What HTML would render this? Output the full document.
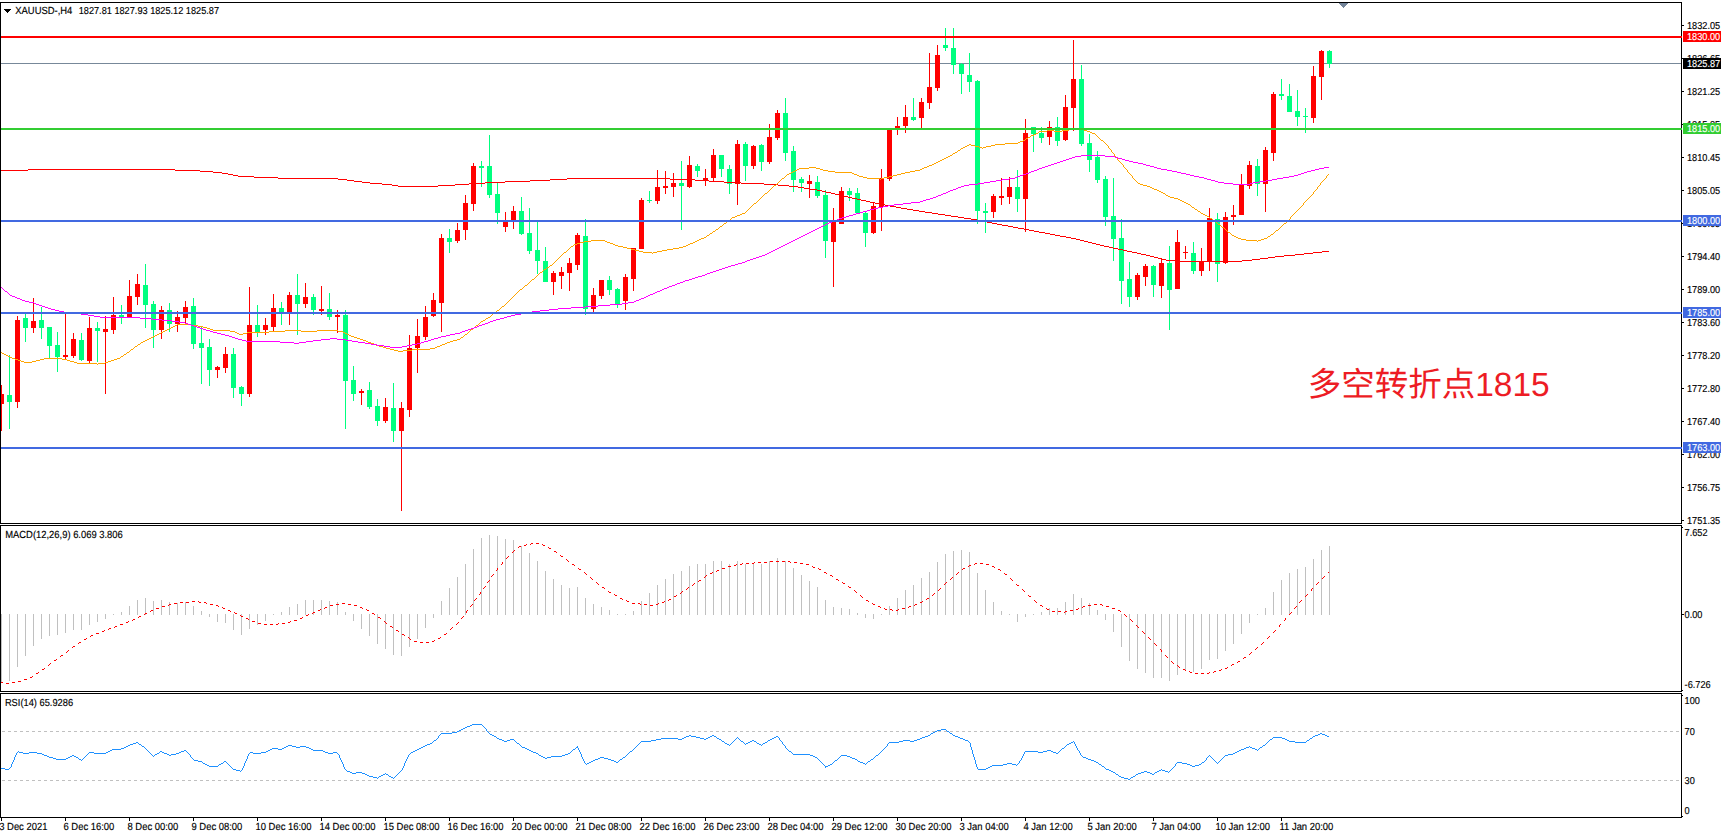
<!DOCTYPE html>
<html lang="zh"><head><meta charset="utf-8"><title>XAUUSD H4</title>
<style>html,body{margin:0;padding:0;background:#fff;}body{width:1721px;height:838px;overflow:hidden;}svg{display:block;}text{font-family:"Liberation Sans", sans-serif;font-size:9.2px;fill:#000;}text{stroke:#000;stroke-width:.15px;text-rendering:geometricPrecision;}.w{fill:#fff;stroke:#fff;}.cj{font-family:"Liberation Sans","Noto Sans CJK SC",sans-serif;font-size:33.5px;fill:#ed1c24;stroke:none;}</style></head><body>
<svg width="1721" height="838" viewBox="0 0 1721 838">
<rect x="0" y="0" width="1721" height="838" fill="#fff"/>
<g shape-rendering="crispEdges">
<line x1="2" y1="731.5" x2="1680" y2="731.5" stroke="#c0c0c0" stroke-width="1" stroke-dasharray="3 3"/>
<line x1="2" y1="780.5" x2="1680" y2="780.5" stroke="#c0c0c0" stroke-width="1" stroke-dasharray="3 3"/>
<rect x="1" y="614" width="1" height="69" fill="#c0c0c0"/>
<rect x="9" y="614" width="1" height="67" fill="#c0c0c0"/>
<rect x="17" y="614" width="1" height="53" fill="#c0c0c0"/>
<rect x="25" y="614" width="1" height="42" fill="#c0c0c0"/>
<rect x="33" y="614" width="1" height="32" fill="#c0c0c0"/>
<rect x="41" y="614" width="1" height="25" fill="#c0c0c0"/>
<rect x="49" y="614" width="1" height="22" fill="#c0c0c0"/>
<rect x="57" y="614" width="1" height="21" fill="#c0c0c0"/>
<rect x="65" y="614" width="1" height="19" fill="#c0c0c0"/>
<rect x="73" y="614" width="1" height="16" fill="#c0c0c0"/>
<rect x="81" y="614" width="1" height="16" fill="#c0c0c0"/>
<rect x="89" y="614" width="1" height="11" fill="#c0c0c0"/>
<rect x="97" y="614" width="1" height="8" fill="#c0c0c0"/>
<rect x="105" y="614" width="1" height="5" fill="#c0c0c0"/>
<rect x="113" y="614" width="1" height="1" fill="#c0c0c0"/>
<rect x="121" y="612" width="1" height="3" fill="#c0c0c0"/>
<rect x="129" y="606" width="1" height="9" fill="#c0c0c0"/>
<rect x="137" y="600" width="1" height="15" fill="#c0c0c0"/>
<rect x="145" y="598" width="1" height="17" fill="#c0c0c0"/>
<rect x="153" y="601" width="1" height="14" fill="#c0c0c0"/>
<rect x="161" y="600" width="1" height="15" fill="#c0c0c0"/>
<rect x="169" y="602" width="1" height="13" fill="#c0c0c0"/>
<rect x="177" y="603" width="1" height="12" fill="#c0c0c0"/>
<rect x="185" y="602" width="1" height="13" fill="#c0c0c0"/>
<rect x="193" y="606" width="1" height="9" fill="#c0c0c0"/>
<rect x="201" y="611" width="1" height="4" fill="#c0c0c0"/>
<rect x="209" y="614" width="1" height="3" fill="#c0c0c0"/>
<rect x="217" y="614" width="1" height="8" fill="#c0c0c0"/>
<rect x="225" y="614" width="1" height="9" fill="#c0c0c0"/>
<rect x="233" y="614" width="1" height="16" fill="#c0c0c0"/>
<rect x="241" y="614" width="1" height="21" fill="#c0c0c0"/>
<rect x="249" y="614" width="1" height="15" fill="#c0c0c0"/>
<rect x="257" y="614" width="1" height="11" fill="#c0c0c0"/>
<rect x="265" y="614" width="1" height="7" fill="#c0c0c0"/>
<rect x="273" y="614" width="1" height="1" fill="#c0c0c0"/>
<rect x="281" y="612" width="1" height="3" fill="#c0c0c0"/>
<rect x="289" y="607" width="1" height="8" fill="#c0c0c0"/>
<rect x="297" y="604" width="1" height="11" fill="#c0c0c0"/>
<rect x="305" y="600" width="1" height="15" fill="#c0c0c0"/>
<rect x="313" y="600" width="1" height="15" fill="#c0c0c0"/>
<rect x="321" y="600" width="1" height="15" fill="#c0c0c0"/>
<rect x="329" y="601" width="1" height="14" fill="#c0c0c0"/>
<rect x="337" y="602" width="1" height="13" fill="#c0c0c0"/>
<rect x="345" y="612" width="1" height="3" fill="#c0c0c0"/>
<rect x="353" y="614" width="1" height="7" fill="#c0c0c0"/>
<rect x="361" y="614" width="1" height="15" fill="#c0c0c0"/>
<rect x="369" y="614" width="1" height="22" fill="#c0c0c0"/>
<rect x="377" y="614" width="1" height="30" fill="#c0c0c0"/>
<rect x="385" y="614" width="1" height="35" fill="#c0c0c0"/>
<rect x="393" y="614" width="1" height="41" fill="#c0c0c0"/>
<rect x="401" y="614" width="1" height="42" fill="#c0c0c0"/>
<rect x="409" y="614" width="1" height="33" fill="#c0c0c0"/>
<rect x="417" y="614" width="1" height="25" fill="#c0c0c0"/>
<rect x="425" y="614" width="1" height="14" fill="#c0c0c0"/>
<rect x="433" y="614" width="1" height="4" fill="#c0c0c0"/>
<rect x="441" y="601" width="1" height="14" fill="#c0c0c0"/>
<rect x="449" y="588" width="1" height="27" fill="#c0c0c0"/>
<rect x="457" y="577" width="1" height="38" fill="#c0c0c0"/>
<rect x="465" y="564" width="1" height="51" fill="#c0c0c0"/>
<rect x="473" y="549" width="1" height="66" fill="#c0c0c0"/>
<rect x="481" y="538" width="1" height="77" fill="#c0c0c0"/>
<rect x="489" y="535" width="1" height="80" fill="#c0c0c0"/>
<rect x="497" y="536" width="1" height="79" fill="#c0c0c0"/>
<rect x="505" y="539" width="1" height="76" fill="#c0c0c0"/>
<rect x="513" y="540" width="1" height="75" fill="#c0c0c0"/>
<rect x="521" y="546" width="1" height="69" fill="#c0c0c0"/>
<rect x="529" y="553" width="1" height="62" fill="#c0c0c0"/>
<rect x="537" y="561" width="1" height="54" fill="#c0c0c0"/>
<rect x="545" y="571" width="1" height="44" fill="#c0c0c0"/>
<rect x="553" y="579" width="1" height="36" fill="#c0c0c0"/>
<rect x="561" y="585" width="1" height="30" fill="#c0c0c0"/>
<rect x="569" y="588" width="1" height="27" fill="#c0c0c0"/>
<rect x="577" y="587" width="1" height="28" fill="#c0c0c0"/>
<rect x="585" y="598" width="1" height="17" fill="#c0c0c0"/>
<rect x="593" y="604" width="1" height="11" fill="#c0c0c0"/>
<rect x="601" y="607" width="1" height="8" fill="#c0c0c0"/>
<rect x="609" y="610" width="1" height="5" fill="#c0c0c0"/>
<rect x="617" y="614" width="1" height="1" fill="#c0c0c0"/>
<rect x="625" y="614" width="1" height="1" fill="#c0c0c0"/>
<rect x="633" y="611" width="1" height="4" fill="#c0c0c0"/>
<rect x="641" y="601" width="1" height="14" fill="#c0c0c0"/>
<rect x="649" y="593" width="1" height="22" fill="#c0c0c0"/>
<rect x="657" y="585" width="1" height="30" fill="#c0c0c0"/>
<rect x="665" y="579" width="1" height="36" fill="#c0c0c0"/>
<rect x="673" y="574" width="1" height="41" fill="#c0c0c0"/>
<rect x="681" y="571" width="1" height="44" fill="#c0c0c0"/>
<rect x="689" y="566" width="1" height="49" fill="#c0c0c0"/>
<rect x="697" y="564" width="1" height="51" fill="#c0c0c0"/>
<rect x="705" y="564" width="1" height="51" fill="#c0c0c0"/>
<rect x="713" y="561" width="1" height="54" fill="#c0c0c0"/>
<rect x="721" y="561" width="1" height="54" fill="#c0c0c0"/>
<rect x="729" y="564" width="1" height="51" fill="#c0c0c0"/>
<rect x="737" y="561" width="1" height="54" fill="#c0c0c0"/>
<rect x="745" y="564" width="1" height="51" fill="#c0c0c0"/>
<rect x="753" y="564" width="1" height="51" fill="#c0c0c0"/>
<rect x="761" y="564" width="1" height="51" fill="#c0c0c0"/>
<rect x="769" y="561" width="1" height="54" fill="#c0c0c0"/>
<rect x="777" y="558" width="1" height="57" fill="#c0c0c0"/>
<rect x="785" y="561" width="1" height="54" fill="#c0c0c0"/>
<rect x="793" y="568" width="1" height="47" fill="#c0c0c0"/>
<rect x="801" y="575" width="1" height="40" fill="#c0c0c0"/>
<rect x="809" y="581" width="1" height="34" fill="#c0c0c0"/>
<rect x="817" y="587" width="1" height="28" fill="#c0c0c0"/>
<rect x="825" y="600" width="1" height="15" fill="#c0c0c0"/>
<rect x="833" y="607" width="1" height="8" fill="#c0c0c0"/>
<rect x="841" y="608" width="1" height="7" fill="#c0c0c0"/>
<rect x="849" y="609" width="1" height="6" fill="#c0c0c0"/>
<rect x="857" y="613" width="1" height="2" fill="#c0c0c0"/>
<rect x="865" y="614" width="1" height="4" fill="#c0c0c0"/>
<rect x="873" y="614" width="1" height="5" fill="#c0c0c0"/>
<rect x="881" y="614" width="1" height="1" fill="#c0c0c0"/>
<rect x="889" y="606" width="1" height="9" fill="#c0c0c0"/>
<rect x="897" y="598" width="1" height="17" fill="#c0c0c0"/>
<rect x="905" y="590" width="1" height="25" fill="#c0c0c0"/>
<rect x="913" y="585" width="1" height="30" fill="#c0c0c0"/>
<rect x="921" y="578" width="1" height="37" fill="#c0c0c0"/>
<rect x="929" y="572" width="1" height="43" fill="#c0c0c0"/>
<rect x="937" y="562" width="1" height="53" fill="#c0c0c0"/>
<rect x="945" y="554" width="1" height="61" fill="#c0c0c0"/>
<rect x="953" y="551" width="1" height="64" fill="#c0c0c0"/>
<rect x="961" y="550" width="1" height="65" fill="#c0c0c0"/>
<rect x="969" y="552" width="1" height="63" fill="#c0c0c0"/>
<rect x="977" y="573" width="1" height="42" fill="#c0c0c0"/>
<rect x="985" y="590" width="1" height="25" fill="#c0c0c0"/>
<rect x="993" y="602" width="1" height="13" fill="#c0c0c0"/>
<rect x="1001" y="611" width="1" height="4" fill="#c0c0c0"/>
<rect x="1009" y="614" width="1" height="1" fill="#c0c0c0"/>
<rect x="1017" y="614" width="1" height="8" fill="#c0c0c0"/>
<rect x="1025" y="614" width="1" height="3" fill="#c0c0c0"/>
<rect x="1033" y="614" width="1" height="1" fill="#c0c0c0"/>
<rect x="1041" y="612" width="1" height="3" fill="#c0c0c0"/>
<rect x="1049" y="608" width="1" height="7" fill="#c0c0c0"/>
<rect x="1057" y="608" width="1" height="7" fill="#c0c0c0"/>
<rect x="1065" y="602" width="1" height="13" fill="#c0c0c0"/>
<rect x="1073" y="594" width="1" height="21" fill="#c0c0c0"/>
<rect x="1081" y="598" width="1" height="17" fill="#c0c0c0"/>
<rect x="1089" y="603" width="1" height="12" fill="#c0c0c0"/>
<rect x="1097" y="610" width="1" height="5" fill="#c0c0c0"/>
<rect x="1105" y="614" width="1" height="6" fill="#c0c0c0"/>
<rect x="1113" y="614" width="1" height="18" fill="#c0c0c0"/>
<rect x="1121" y="614" width="1" height="33" fill="#c0c0c0"/>
<rect x="1129" y="614" width="1" height="47" fill="#c0c0c0"/>
<rect x="1137" y="614" width="1" height="55" fill="#c0c0c0"/>
<rect x="1145" y="614" width="1" height="59" fill="#c0c0c0"/>
<rect x="1153" y="614" width="1" height="64" fill="#c0c0c0"/>
<rect x="1161" y="614" width="1" height="64" fill="#c0c0c0"/>
<rect x="1169" y="614" width="1" height="67" fill="#c0c0c0"/>
<rect x="1177" y="614" width="1" height="61" fill="#c0c0c0"/>
<rect x="1185" y="614" width="1" height="57" fill="#c0c0c0"/>
<rect x="1193" y="614" width="1" height="58" fill="#c0c0c0"/>
<rect x="1201" y="614" width="1" height="55" fill="#c0c0c0"/>
<rect x="1209" y="614" width="1" height="46" fill="#c0c0c0"/>
<rect x="1217" y="614" width="1" height="45" fill="#c0c0c0"/>
<rect x="1225" y="614" width="1" height="37" fill="#c0c0c0"/>
<rect x="1233" y="614" width="1" height="30" fill="#c0c0c0"/>
<rect x="1241" y="614" width="1" height="20" fill="#c0c0c0"/>
<rect x="1249" y="614" width="1" height="9" fill="#c0c0c0"/>
<rect x="1257" y="614" width="1" height="1" fill="#c0c0c0"/>
<rect x="1265" y="608" width="1" height="7" fill="#c0c0c0"/>
<rect x="1273" y="592" width="1" height="23" fill="#c0c0c0"/>
<rect x="1281" y="580" width="1" height="35" fill="#c0c0c0"/>
<rect x="1289" y="573" width="1" height="42" fill="#c0c0c0"/>
<rect x="1297" y="569" width="1" height="46" fill="#c0c0c0"/>
<rect x="1305" y="567" width="1" height="48" fill="#c0c0c0"/>
<rect x="1313" y="559" width="1" height="56" fill="#c0c0c0"/>
<rect x="1321" y="550" width="1" height="65" fill="#c0c0c0"/>
<rect x="1329" y="546" width="1" height="69" fill="#c0c0c0"/>
<rect x="1" y="63" width="1681" height="1" fill="#778899"/>
<rect x="1" y="385" width="1" height="46" fill="#ff0000"/>
<rect x="1" y="394" width="3" height="10" fill="#ff0000"/>
<rect x="9" y="355" width="1" height="74" fill="#00ff7f"/>
<rect x="7" y="395" width="5" height="7" fill="#00ff7f"/>
<rect x="17" y="316" width="1" height="92" fill="#ff0000"/>
<rect x="15" y="320" width="5" height="82" fill="#ff0000"/>
<rect x="25" y="314" width="1" height="28" fill="#00ff7f"/>
<rect x="23" y="318" width="5" height="10" fill="#00ff7f"/>
<rect x="33" y="298" width="1" height="35" fill="#ff0000"/>
<rect x="31" y="321" width="5" height="7" fill="#ff0000"/>
<rect x="41" y="307" width="1" height="32" fill="#00ff7f"/>
<rect x="39" y="320" width="5" height="8" fill="#00ff7f"/>
<rect x="49" y="327" width="1" height="31" fill="#00ff7f"/>
<rect x="47" y="327" width="5" height="19" fill="#00ff7f"/>
<rect x="57" y="332" width="1" height="40" fill="#00ff7f"/>
<rect x="55" y="345" width="5" height="12" fill="#00ff7f"/>
<rect x="65" y="313" width="1" height="47" fill="#ff0000"/>
<rect x="63" y="355" width="5" height="2" fill="#ff0000"/>
<rect x="73" y="333" width="1" height="25" fill="#ff0000"/>
<rect x="71" y="339" width="5" height="17" fill="#ff0000"/>
<rect x="81" y="333" width="1" height="28" fill="#00ff7f"/>
<rect x="79" y="340" width="5" height="20" fill="#00ff7f"/>
<rect x="89" y="317" width="1" height="47" fill="#ff0000"/>
<rect x="87" y="328" width="5" height="33" fill="#ff0000"/>
<rect x="97" y="322" width="1" height="40" fill="#00ff7f"/>
<rect x="95" y="328" width="5" height="3" fill="#00ff7f"/>
<rect x="105" y="316" width="1" height="78" fill="#ff0000"/>
<rect x="103" y="329" width="5" height="3" fill="#ff0000"/>
<rect x="113" y="297" width="1" height="37" fill="#ff0000"/>
<rect x="111" y="315" width="5" height="15" fill="#ff0000"/>
<rect x="121" y="305" width="1" height="19" fill="#00ff7f"/>
<rect x="119" y="315" width="5" height="2" fill="#00ff7f"/>
<rect x="129" y="280" width="1" height="37" fill="#ff0000"/>
<rect x="127" y="296" width="5" height="21" fill="#ff0000"/>
<rect x="137" y="274" width="1" height="31" fill="#ff0000"/>
<rect x="135" y="284" width="5" height="13" fill="#ff0000"/>
<rect x="145" y="264" width="1" height="64" fill="#00ff7f"/>
<rect x="143" y="285" width="5" height="20" fill="#00ff7f"/>
<rect x="153" y="301" width="1" height="47" fill="#00ff7f"/>
<rect x="151" y="304" width="5" height="26" fill="#00ff7f"/>
<rect x="161" y="306" width="1" height="33" fill="#ff0000"/>
<rect x="159" y="310" width="5" height="20" fill="#ff0000"/>
<rect x="169" y="303" width="1" height="29" fill="#00ff7f"/>
<rect x="167" y="310" width="5" height="14" fill="#00ff7f"/>
<rect x="177" y="311" width="1" height="21" fill="#ff0000"/>
<rect x="175" y="317" width="5" height="7" fill="#ff0000"/>
<rect x="185" y="301" width="1" height="24" fill="#ff0000"/>
<rect x="183" y="307" width="5" height="11" fill="#ff0000"/>
<rect x="193" y="298" width="1" height="51" fill="#00ff7f"/>
<rect x="191" y="306" width="5" height="38" fill="#00ff7f"/>
<rect x="201" y="326" width="1" height="58" fill="#00ff7f"/>
<rect x="199" y="343" width="5" height="5" fill="#00ff7f"/>
<rect x="209" y="339" width="1" height="47" fill="#00ff7f"/>
<rect x="207" y="347" width="5" height="23" fill="#00ff7f"/>
<rect x="217" y="366" width="1" height="12" fill="#ff0000"/>
<rect x="215" y="367" width="5" height="3" fill="#ff0000"/>
<rect x="225" y="347" width="1" height="26" fill="#ff0000"/>
<rect x="223" y="354" width="5" height="14" fill="#ff0000"/>
<rect x="233" y="348" width="1" height="50" fill="#00ff7f"/>
<rect x="231" y="354" width="5" height="34" fill="#00ff7f"/>
<rect x="241" y="386" width="1" height="20" fill="#00ff7f"/>
<rect x="239" y="387" width="5" height="7" fill="#00ff7f"/>
<rect x="249" y="287" width="1" height="110" fill="#ff0000"/>
<rect x="247" y="325" width="5" height="69" fill="#ff0000"/>
<rect x="257" y="305" width="1" height="32" fill="#00ff7f"/>
<rect x="255" y="325" width="5" height="7" fill="#00ff7f"/>
<rect x="265" y="318" width="1" height="17" fill="#ff0000"/>
<rect x="263" y="325" width="5" height="5" fill="#ff0000"/>
<rect x="273" y="294" width="1" height="37" fill="#ff0000"/>
<rect x="271" y="308" width="5" height="19" fill="#ff0000"/>
<rect x="281" y="302" width="1" height="23" fill="#00ff7f"/>
<rect x="279" y="308" width="5" height="4" fill="#00ff7f"/>
<rect x="289" y="292" width="1" height="33" fill="#ff0000"/>
<rect x="287" y="295" width="5" height="17" fill="#ff0000"/>
<rect x="297" y="274" width="1" height="61" fill="#00ff7f"/>
<rect x="295" y="295" width="5" height="9" fill="#00ff7f"/>
<rect x="305" y="283" width="1" height="25" fill="#ff0000"/>
<rect x="303" y="297" width="5" height="7" fill="#ff0000"/>
<rect x="313" y="294" width="1" height="21" fill="#00ff7f"/>
<rect x="311" y="297" width="5" height="13" fill="#00ff7f"/>
<rect x="321" y="286" width="1" height="29" fill="#ff0000"/>
<rect x="319" y="309" width="5" height="2" fill="#ff0000"/>
<rect x="329" y="293" width="1" height="27" fill="#00ff7f"/>
<rect x="327" y="309" width="5" height="8" fill="#00ff7f"/>
<rect x="337" y="310" width="1" height="23" fill="#ff0000"/>
<rect x="335" y="315" width="5" height="2" fill="#ff0000"/>
<rect x="345" y="310" width="1" height="119" fill="#00ff7f"/>
<rect x="343" y="315" width="5" height="66" fill="#00ff7f"/>
<rect x="353" y="366" width="1" height="35" fill="#00ff7f"/>
<rect x="351" y="380" width="5" height="14" fill="#00ff7f"/>
<rect x="361" y="389" width="1" height="16" fill="#ff0000"/>
<rect x="359" y="391" width="5" height="2" fill="#ff0000"/>
<rect x="369" y="382" width="1" height="27" fill="#00ff7f"/>
<rect x="367" y="390" width="5" height="17" fill="#00ff7f"/>
<rect x="377" y="399" width="1" height="27" fill="#00ff7f"/>
<rect x="375" y="406" width="5" height="15" fill="#00ff7f"/>
<rect x="385" y="398" width="1" height="25" fill="#ff0000"/>
<rect x="383" y="407" width="5" height="14" fill="#ff0000"/>
<rect x="393" y="383" width="1" height="59" fill="#00ff7f"/>
<rect x="391" y="408" width="5" height="23" fill="#00ff7f"/>
<rect x="401" y="402" width="1" height="109" fill="#ff0000"/>
<rect x="399" y="408" width="5" height="23" fill="#ff0000"/>
<rect x="409" y="335" width="1" height="82" fill="#ff0000"/>
<rect x="407" y="348" width="5" height="62" fill="#ff0000"/>
<rect x="417" y="319" width="1" height="54" fill="#ff0000"/>
<rect x="415" y="336" width="5" height="12" fill="#ff0000"/>
<rect x="425" y="306" width="1" height="34" fill="#ff0000"/>
<rect x="423" y="317" width="5" height="20" fill="#ff0000"/>
<rect x="433" y="293" width="1" height="24" fill="#ff0000"/>
<rect x="431" y="300" width="5" height="16" fill="#ff0000"/>
<rect x="441" y="234" width="1" height="98" fill="#ff0000"/>
<rect x="439" y="238" width="5" height="65" fill="#ff0000"/>
<rect x="449" y="229" width="1" height="24" fill="#00ff7f"/>
<rect x="447" y="238" width="5" height="4" fill="#00ff7f"/>
<rect x="457" y="223" width="1" height="20" fill="#ff0000"/>
<rect x="455" y="230" width="5" height="11" fill="#ff0000"/>
<rect x="465" y="195" width="1" height="45" fill="#ff0000"/>
<rect x="463" y="203" width="5" height="27" fill="#ff0000"/>
<rect x="473" y="163" width="1" height="48" fill="#ff0000"/>
<rect x="471" y="166" width="5" height="38" fill="#ff0000"/>
<rect x="481" y="161" width="1" height="26" fill="#00ff7f"/>
<rect x="479" y="166" width="5" height="2" fill="#00ff7f"/>
<rect x="489" y="135" width="1" height="63" fill="#00ff7f"/>
<rect x="487" y="166" width="5" height="29" fill="#00ff7f"/>
<rect x="497" y="183" width="1" height="41" fill="#00ff7f"/>
<rect x="495" y="194" width="5" height="19" fill="#00ff7f"/>
<rect x="505" y="212" width="1" height="20" fill="#ff0000"/>
<rect x="503" y="221" width="5" height="6" fill="#ff0000"/>
<rect x="513" y="206" width="1" height="23" fill="#ff0000"/>
<rect x="511" y="211" width="5" height="10" fill="#ff0000"/>
<rect x="521" y="197" width="1" height="38" fill="#00ff7f"/>
<rect x="519" y="211" width="5" height="23" fill="#00ff7f"/>
<rect x="529" y="208" width="1" height="46" fill="#00ff7f"/>
<rect x="527" y="233" width="5" height="18" fill="#00ff7f"/>
<rect x="537" y="221" width="1" height="53" fill="#00ff7f"/>
<rect x="535" y="250" width="5" height="11" fill="#00ff7f"/>
<rect x="545" y="247" width="1" height="35" fill="#00ff7f"/>
<rect x="543" y="261" width="5" height="21" fill="#00ff7f"/>
<rect x="553" y="271" width="1" height="24" fill="#ff0000"/>
<rect x="551" y="273" width="5" height="9" fill="#ff0000"/>
<rect x="561" y="267" width="1" height="22" fill="#ff0000"/>
<rect x="559" y="272" width="5" height="4" fill="#ff0000"/>
<rect x="569" y="258" width="1" height="33" fill="#ff0000"/>
<rect x="567" y="263" width="5" height="10" fill="#ff0000"/>
<rect x="577" y="233" width="1" height="37" fill="#ff0000"/>
<rect x="575" y="235" width="5" height="30" fill="#ff0000"/>
<rect x="585" y="219" width="1" height="96" fill="#00ff7f"/>
<rect x="583" y="236" width="5" height="73" fill="#00ff7f"/>
<rect x="593" y="288" width="1" height="24" fill="#ff0000"/>
<rect x="591" y="295" width="5" height="14" fill="#ff0000"/>
<rect x="601" y="280" width="1" height="19" fill="#ff0000"/>
<rect x="599" y="280" width="5" height="16" fill="#ff0000"/>
<rect x="609" y="276" width="1" height="19" fill="#00ff7f"/>
<rect x="607" y="280" width="5" height="10" fill="#00ff7f"/>
<rect x="617" y="288" width="1" height="20" fill="#00ff7f"/>
<rect x="615" y="289" width="5" height="15" fill="#00ff7f"/>
<rect x="625" y="274" width="1" height="36" fill="#ff0000"/>
<rect x="623" y="277" width="5" height="24" fill="#ff0000"/>
<rect x="633" y="248" width="1" height="43" fill="#ff0000"/>
<rect x="631" y="248" width="5" height="31" fill="#ff0000"/>
<rect x="641" y="198" width="1" height="51" fill="#ff0000"/>
<rect x="639" y="200" width="5" height="49" fill="#ff0000"/>
<rect x="649" y="191" width="1" height="12" fill="#00ff7f"/>
<rect x="647" y="200" width="5" height="1" fill="#00ff7f"/>
<rect x="657" y="170" width="1" height="34" fill="#ff0000"/>
<rect x="655" y="187" width="5" height="14" fill="#ff0000"/>
<rect x="665" y="171" width="1" height="23" fill="#ff0000"/>
<rect x="663" y="186" width="5" height="2" fill="#ff0000"/>
<rect x="673" y="173" width="1" height="24" fill="#ff0000"/>
<rect x="671" y="183" width="5" height="4" fill="#ff0000"/>
<rect x="681" y="161" width="1" height="69" fill="#00ff7f"/>
<rect x="679" y="183" width="5" height="3" fill="#00ff7f"/>
<rect x="689" y="156" width="1" height="32" fill="#ff0000"/>
<rect x="687" y="165" width="5" height="22" fill="#ff0000"/>
<rect x="697" y="164" width="1" height="13" fill="#00ff7f"/>
<rect x="695" y="166" width="5" height="5" fill="#00ff7f"/>
<rect x="705" y="169" width="1" height="17" fill="#ff0000"/>
<rect x="703" y="178" width="5" height="3" fill="#ff0000"/>
<rect x="713" y="149" width="1" height="32" fill="#ff0000"/>
<rect x="711" y="155" width="5" height="23" fill="#ff0000"/>
<rect x="721" y="155" width="1" height="22" fill="#00ff7f"/>
<rect x="719" y="155" width="5" height="14" fill="#00ff7f"/>
<rect x="729" y="165" width="1" height="29" fill="#00ff7f"/>
<rect x="727" y="169" width="5" height="15" fill="#00ff7f"/>
<rect x="737" y="140" width="1" height="65" fill="#ff0000"/>
<rect x="735" y="144" width="5" height="40" fill="#ff0000"/>
<rect x="745" y="142" width="1" height="39" fill="#00ff7f"/>
<rect x="743" y="144" width="5" height="22" fill="#00ff7f"/>
<rect x="753" y="145" width="1" height="24" fill="#ff0000"/>
<rect x="751" y="146" width="5" height="20" fill="#ff0000"/>
<rect x="761" y="144" width="1" height="27" fill="#00ff7f"/>
<rect x="759" y="145" width="5" height="17" fill="#00ff7f"/>
<rect x="769" y="124" width="1" height="40" fill="#ff0000"/>
<rect x="767" y="137" width="5" height="25" fill="#ff0000"/>
<rect x="777" y="110" width="1" height="30" fill="#ff0000"/>
<rect x="775" y="113" width="5" height="25" fill="#ff0000"/>
<rect x="785" y="98" width="1" height="63" fill="#00ff7f"/>
<rect x="783" y="113" width="5" height="40" fill="#00ff7f"/>
<rect x="793" y="146" width="1" height="46" fill="#00ff7f"/>
<rect x="791" y="151" width="5" height="29" fill="#00ff7f"/>
<rect x="801" y="177" width="1" height="15" fill="#00ff7f"/>
<rect x="799" y="179" width="5" height="4" fill="#00ff7f"/>
<rect x="809" y="175" width="1" height="23" fill="#ff0000"/>
<rect x="807" y="181" width="5" height="3" fill="#ff0000"/>
<rect x="817" y="176" width="1" height="22" fill="#00ff7f"/>
<rect x="815" y="182" width="5" height="14" fill="#00ff7f"/>
<rect x="825" y="190" width="1" height="68" fill="#00ff7f"/>
<rect x="823" y="195" width="5" height="46" fill="#00ff7f"/>
<rect x="833" y="208" width="1" height="79" fill="#ff0000"/>
<rect x="831" y="221" width="5" height="21" fill="#ff0000"/>
<rect x="841" y="187" width="1" height="37" fill="#ff0000"/>
<rect x="839" y="191" width="5" height="33" fill="#ff0000"/>
<rect x="849" y="188" width="1" height="13" fill="#00ff7f"/>
<rect x="847" y="191" width="5" height="4" fill="#00ff7f"/>
<rect x="857" y="188" width="1" height="26" fill="#00ff7f"/>
<rect x="855" y="193" width="5" height="20" fill="#00ff7f"/>
<rect x="865" y="211" width="1" height="36" fill="#00ff7f"/>
<rect x="863" y="213" width="5" height="20" fill="#00ff7f"/>
<rect x="873" y="203" width="1" height="31" fill="#ff0000"/>
<rect x="871" y="206" width="5" height="27" fill="#ff0000"/>
<rect x="881" y="169" width="1" height="62" fill="#ff0000"/>
<rect x="879" y="178" width="5" height="29" fill="#ff0000"/>
<rect x="889" y="129" width="1" height="52" fill="#ff0000"/>
<rect x="887" y="129" width="5" height="50" fill="#ff0000"/>
<rect x="897" y="117" width="1" height="18" fill="#ff0000"/>
<rect x="895" y="126" width="5" height="2" fill="#ff0000"/>
<rect x="905" y="105" width="1" height="28" fill="#ff0000"/>
<rect x="903" y="117" width="5" height="9" fill="#ff0000"/>
<rect x="913" y="98" width="1" height="23" fill="#00ff7f"/>
<rect x="911" y="117" width="5" height="3" fill="#00ff7f"/>
<rect x="921" y="98" width="1" height="30" fill="#ff0000"/>
<rect x="919" y="102" width="5" height="16" fill="#ff0000"/>
<rect x="929" y="53" width="1" height="56" fill="#ff0000"/>
<rect x="927" y="87" width="5" height="16" fill="#ff0000"/>
<rect x="937" y="45" width="1" height="46" fill="#ff0000"/>
<rect x="935" y="55" width="5" height="33" fill="#ff0000"/>
<rect x="945" y="28" width="1" height="23" fill="#00ff7f"/>
<rect x="943" y="45" width="5" height="3" fill="#00ff7f"/>
<rect x="953" y="28" width="1" height="46" fill="#00ff7f"/>
<rect x="951" y="48" width="5" height="17" fill="#00ff7f"/>
<rect x="961" y="63" width="1" height="31" fill="#00ff7f"/>
<rect x="959" y="64" width="5" height="10" fill="#00ff7f"/>
<rect x="969" y="53" width="1" height="39" fill="#00ff7f"/>
<rect x="967" y="75" width="5" height="7" fill="#00ff7f"/>
<rect x="977" y="80" width="1" height="144" fill="#00ff7f"/>
<rect x="975" y="81" width="5" height="130" fill="#00ff7f"/>
<rect x="985" y="203" width="1" height="30" fill="#00ff7f"/>
<rect x="983" y="211" width="5" height="2" fill="#00ff7f"/>
<rect x="993" y="194" width="1" height="24" fill="#ff0000"/>
<rect x="991" y="196" width="5" height="16" fill="#ff0000"/>
<rect x="1001" y="178" width="1" height="27" fill="#ff0000"/>
<rect x="999" y="196" width="5" height="2" fill="#ff0000"/>
<rect x="1009" y="177" width="1" height="27" fill="#ff0000"/>
<rect x="1007" y="187" width="5" height="10" fill="#ff0000"/>
<rect x="1017" y="170" width="1" height="42" fill="#00ff7f"/>
<rect x="1015" y="187" width="5" height="12" fill="#00ff7f"/>
<rect x="1025" y="119" width="1" height="113" fill="#ff0000"/>
<rect x="1023" y="133" width="5" height="66" fill="#ff0000"/>
<rect x="1033" y="127" width="1" height="25" fill="#00ff7f"/>
<rect x="1031" y="127" width="5" height="7" fill="#00ff7f"/>
<rect x="1041" y="127" width="1" height="16" fill="#00ff7f"/>
<rect x="1039" y="133" width="5" height="5" fill="#00ff7f"/>
<rect x="1049" y="121" width="1" height="24" fill="#ff0000"/>
<rect x="1047" y="127" width="5" height="10" fill="#ff0000"/>
<rect x="1057" y="117" width="1" height="29" fill="#00ff7f"/>
<rect x="1055" y="127" width="5" height="14" fill="#00ff7f"/>
<rect x="1065" y="95" width="1" height="46" fill="#ff0000"/>
<rect x="1063" y="107" width="5" height="33" fill="#ff0000"/>
<rect x="1073" y="40" width="1" height="91" fill="#ff0000"/>
<rect x="1071" y="79" width="5" height="29" fill="#ff0000"/>
<rect x="1081" y="65" width="1" height="81" fill="#00ff7f"/>
<rect x="1079" y="79" width="5" height="65" fill="#00ff7f"/>
<rect x="1089" y="134" width="1" height="38" fill="#00ff7f"/>
<rect x="1087" y="143" width="5" height="17" fill="#00ff7f"/>
<rect x="1097" y="151" width="1" height="32" fill="#00ff7f"/>
<rect x="1095" y="157" width="5" height="23" fill="#00ff7f"/>
<rect x="1105" y="176" width="1" height="50" fill="#00ff7f"/>
<rect x="1103" y="179" width="5" height="38" fill="#00ff7f"/>
<rect x="1113" y="178" width="1" height="83" fill="#00ff7f"/>
<rect x="1111" y="216" width="5" height="23" fill="#00ff7f"/>
<rect x="1121" y="219" width="1" height="85" fill="#00ff7f"/>
<rect x="1119" y="238" width="5" height="43" fill="#00ff7f"/>
<rect x="1129" y="262" width="1" height="45" fill="#00ff7f"/>
<rect x="1127" y="279" width="5" height="18" fill="#00ff7f"/>
<rect x="1137" y="273" width="1" height="27" fill="#ff0000"/>
<rect x="1135" y="275" width="5" height="22" fill="#ff0000"/>
<rect x="1145" y="264" width="1" height="22" fill="#ff0000"/>
<rect x="1143" y="266" width="5" height="11" fill="#ff0000"/>
<rect x="1153" y="265" width="1" height="32" fill="#00ff7f"/>
<rect x="1151" y="266" width="5" height="19" fill="#00ff7f"/>
<rect x="1161" y="259" width="1" height="39" fill="#ff0000"/>
<rect x="1159" y="263" width="5" height="23" fill="#ff0000"/>
<rect x="1169" y="246" width="1" height="84" fill="#00ff7f"/>
<rect x="1167" y="263" width="5" height="27" fill="#00ff7f"/>
<rect x="1177" y="230" width="1" height="59" fill="#ff0000"/>
<rect x="1175" y="242" width="5" height="47" fill="#ff0000"/>
<rect x="1185" y="246" width="1" height="13" fill="#ff0000"/>
<rect x="1183" y="252" width="5" height="1" fill="#ff0000"/>
<rect x="1193" y="242" width="1" height="32" fill="#00ff7f"/>
<rect x="1191" y="253" width="5" height="18" fill="#00ff7f"/>
<rect x="1201" y="248" width="1" height="28" fill="#ff0000"/>
<rect x="1199" y="261" width="5" height="10" fill="#ff0000"/>
<rect x="1209" y="208" width="1" height="63" fill="#ff0000"/>
<rect x="1207" y="218" width="5" height="44" fill="#ff0000"/>
<rect x="1217" y="213" width="1" height="69" fill="#00ff7f"/>
<rect x="1215" y="219" width="5" height="45" fill="#00ff7f"/>
<rect x="1225" y="212" width="1" height="52" fill="#ff0000"/>
<rect x="1223" y="217" width="5" height="46" fill="#ff0000"/>
<rect x="1233" y="205" width="1" height="20" fill="#ff0000"/>
<rect x="1231" y="215" width="5" height="2" fill="#ff0000"/>
<rect x="1241" y="174" width="1" height="41" fill="#ff0000"/>
<rect x="1239" y="184" width="5" height="31" fill="#ff0000"/>
<rect x="1249" y="161" width="1" height="28" fill="#ff0000"/>
<rect x="1247" y="165" width="5" height="21" fill="#ff0000"/>
<rect x="1257" y="159" width="1" height="37" fill="#00ff7f"/>
<rect x="1255" y="166" width="5" height="18" fill="#00ff7f"/>
<rect x="1265" y="147" width="1" height="65" fill="#ff0000"/>
<rect x="1263" y="150" width="5" height="34" fill="#ff0000"/>
<rect x="1273" y="92" width="1" height="69" fill="#ff0000"/>
<rect x="1271" y="94" width="5" height="59" fill="#ff0000"/>
<rect x="1281" y="79" width="1" height="21" fill="#00ff7f"/>
<rect x="1279" y="94" width="5" height="2" fill="#00ff7f"/>
<rect x="1289" y="84" width="1" height="28" fill="#00ff7f"/>
<rect x="1287" y="96" width="5" height="16" fill="#00ff7f"/>
<rect x="1297" y="90" width="1" height="36" fill="#00ff7f"/>
<rect x="1295" y="111" width="5" height="6" fill="#00ff7f"/>
<rect x="1305" y="108" width="1" height="25" fill="#00ff7f"/>
<rect x="1303" y="116" width="5" height="1" fill="#00ff7f"/>
<rect x="1313" y="66" width="1" height="57" fill="#ff0000"/>
<rect x="1311" y="76" width="5" height="42" fill="#ff0000"/>
<rect x="1321" y="50" width="1" height="50" fill="#ff0000"/>
<rect x="1319" y="51" width="5" height="26" fill="#ff0000"/>
<rect x="1329" y="50" width="1" height="18" fill="#00ff7f"/>
<rect x="1327" y="51" width="5" height="13" fill="#00ff7f"/>
</g>
<path d="M0 170h28v1h-28zM175 170h25v1h-25zM28 169h147v1h-147zM200 171h13v1h-13zM213 172h9v1h-9zM222 173h6v1h-6zM228 174h5v1h-5zM233 175h5v1h-5zM238 176h16v1h-16zM254 177h24v1h-24zM278 178h60v1h-60zM567 178h103v1h-103zM338 179h9v1h-9zM550 179h17v1h-17zM670 179h25v1h-25zM347 180h7v1h-7zM530 180h20v1h-20zM695 180h14v1h-14zM354 181h8v1h-8zM505 181h25v1h-25zM709 181h15v1h-15zM362 182h8v1h-8zM485 182h20v1h-20zM724 182h17v1h-17zM370 183h12v1h-12zM469 183h16v1h-16zM741 183h23v1h-23zM382 184h10v1h-10zM455 184h14v1h-14zM764 184h14v1h-14zM392 185h6v1h-6zM438 185h17v1h-17zM778 185h11v1h-11zM398 186h40v1h-40zM789 186h9v1h-9zM798 187h6v1h-6zM804 188h6v1h-6zM810 189h7v1h-7zM817 190h5v1h-5zM822 191h4v1h-4zM826 192h5v1h-5zM831 193h4v1h-4zM835 194h5v1h-5zM840 195h4v1h-4zM844 196h4v1h-4zM848 197h4v1h-4zM852 198h5v1h-5zM857 199h4v1h-4zM861 200h5v1h-5zM866 201h4v1h-4zM870 202h5v1h-5zM875 203h5v1h-5zM880 204h5v1h-5zM885 205h5v1h-5zM890 206h6v1h-6zM896 207h5v1h-5zM901 208h6v1h-6zM907 209h6v1h-6zM913 210h6v1h-6zM919 211h6v1h-6zM925 212h7v1h-7zM932 213h6v1h-6zM938 214h7v1h-7zM945 215h6v1h-6zM951 216h7v1h-7zM958 217h6v1h-6zM964 218h7v1h-7zM971 219h6v1h-6zM977 220h5v1h-5zM982 221h5v1h-5zM987 222h5v1h-5zM992 223h5v1h-5zM997 224h5v1h-5zM1002 225h6v1h-6zM1008 226h5v1h-5zM1013 227h5v1h-5zM1018 228h6v1h-6zM1024 229h5v1h-5zM1029 230h5v1h-5zM1034 231h5v1h-5zM1039 232h6v1h-6zM1045 233h5v1h-5zM1050 234h5v1h-5zM1055 235h5v1h-5zM1060 236h6v1h-6zM1066 237h5v1h-5zM1071 238h5v1h-5zM1076 239h4v1h-4zM1080 240h4v1h-4zM1084 241h4v1h-4zM1088 242h4v1h-4zM1092 243h4v1h-4zM1096 244h4v1h-4zM1100 245h4v1h-4zM1104 246h5v1h-5zM1109 247h4v1h-4zM1113 248h5v1h-5zM1118 249h5v1h-5zM1123 250h4v1h-4zM1127 251h5v1h-5zM1322 251h7v1h-7zM1132 252h5v1h-5zM1313 252h9v1h-9zM1137 253h4v1h-4zM1304 253h9v1h-9zM1141 254h5v1h-5zM1295 254h9v1h-9zM1146 255h4v1h-4zM1284 255h11v1h-11zM1150 256h4v1h-4zM1275 256h9v1h-9zM1154 257h4v1h-4zM1268 257h7v1h-7zM1158 258h4v1h-4zM1260 258h8v1h-8zM1162 259h4v1h-4zM1252 259h8v1h-8zM1166 260h11v1h-11zM1242 260h10v1h-10zM1177 261h65v1h-65z" fill="#ff0000" shape-rendering="crispEdges"/>
<path d="M0 352h2v1h-2zM127 352h2v1h-2zM2 353h2v1h-2zM126 353h1v1h-1zM4 354h2v1h-2zM124 354h2v1h-2zM6 355h2v1h-2zM123 355h1v1h-1zM8 356h2v1h-2zM121 356h2v1h-2zM10 357h2v1h-2zM120 357h1v1h-1zM12 358h3v1h-3zM44 358h18v1h-18zM117 358h3v1h-3zM15 359h3v1h-3zM40 359h4v1h-4zM62 359h5v1h-5zM114 359h3v1h-3zM18 360h3v1h-3zM36 360h4v1h-4zM67 360h3v1h-3zM111 360h3v1h-3zM21 361h3v1h-3zM32 361h4v1h-4zM70 361h4v1h-4zM108 361h3v1h-3zM24 362h8v1h-8zM74 362h3v1h-3zM105 362h3v1h-3zM77 363h20v1h-20zM98 363h7v1h-7zM97 364h1v1h-1zM129 351h1v1h-1zM398 351h5v1h-5zM130 350h1v1h-1zM394 350h4v1h-4zM403 350h9v1h-9zM131 349h2v1h-2zM390 349h4v1h-4zM412 349h18v1h-18zM133 348h1v1h-1zM386 348h4v1h-4zM430 348h5v1h-5zM134 347h1v1h-1zM383 347h3v1h-3zM435 347h2v1h-2zM135 346h2v1h-2zM379 346h4v1h-4zM437 346h3v1h-3zM137 345h1v1h-1zM376 345h3v1h-3zM440 345h2v1h-2zM138 344h2v1h-2zM374 344h2v1h-2zM442 344h3v1h-3zM140 343h1v1h-1zM371 343h3v1h-3zM445 343h2v1h-2zM141 342h2v1h-2zM368 342h3v1h-3zM447 342h3v1h-3zM143 341h2v1h-2zM366 341h2v1h-2zM450 341h3v1h-3zM145 340h2v1h-2zM363 340h3v1h-3zM453 340h4v1h-4zM147 339h2v1h-2zM360 339h3v1h-3zM457 339h3v1h-3zM149 338h2v1h-2zM357 338h3v1h-3zM460 338h1v1h-1zM151 337h2v1h-2zM354 337h3v1h-3zM461 337h2v1h-2zM153 336h2v1h-2zM351 336h3v1h-3zM463 336h1v1h-1zM155 335h2v1h-2zM349 335h2v1h-2zM464 335h1v1h-1zM157 334h2v1h-2zM239 334h4v1h-4zM347 334h2v1h-2zM465 334h2v1h-2zM159 333h2v1h-2zM237 333h2v1h-2zM243 333h4v1h-4zM345 333h2v1h-2zM467 333h1v1h-1zM161 332h2v1h-2zM235 332h2v1h-2zM247 332h22v1h-22zM343 332h2v1h-2zM468 332h1v1h-1zM163 331h2v1h-2zM230 331h5v1h-5zM269 331h16v1h-16zM301 331h16v1h-16zM338 331h5v1h-5zM469 331h1v1h-1zM165 330h2v1h-2zM213 330h17v1h-17zM285 330h16v1h-16zM317 330h21v1h-21zM470 330h1v1h-1zM167 329h2v1h-2zM210 329h3v1h-3zM471 329h2v1h-2zM169 328h2v1h-2zM207 328h3v1h-3zM473 328h1v1h-1zM171 327h2v1h-2zM203 327h4v1h-4zM474 327h1v1h-1zM173 326h2v1h-2zM198 326h5v1h-5zM475 326h1v1h-1zM175 325h2v1h-2zM191 325h7v1h-7zM476 325h2v1h-2zM177 324h14v1h-14zM478 324h1v1h-1zM479 323h1v1h-1zM480 322h1v1h-1zM481 321h2v1h-2zM483 320h2v1h-2zM485 319h1v1h-1zM486 318h2v1h-2zM488 317h2v1h-2zM490 316h1v1h-1zM491 315h1v1h-1zM492 314h1v1h-1zM493 313h2v1h-2zM495 312h1v1h-1zM496 311h1v1h-1zM497 310h2v1h-2zM499 309h1v1h-1zM500 308h1v1h-1zM501 307h1v1h-1zM502 306h2v1h-2zM504 305h1v1h-1zM505 304h1v1h-1zM506 303h1v1h-1zM507 302h1v1h-1zM508 301h1v1h-1zM509 300h1v1h-1zM510 299h1v1h-1zM511 298h1v1h-1zM512 297h1v1h-1zM513 296h1v1h-1zM514 295h1v1h-1zM515 294h1v1h-1zM516 293h1v1h-1zM517 292h1v1h-1zM518 291h1v1h-1zM519 290h1v1h-1zM520 289h2v1h-2zM522 288h1v1h-1zM523 287h1v1h-1zM524 286h1v1h-1zM525 285h2v1h-2zM527 284h1v1h-1zM528 283h1v1h-1zM529 282h1v1h-1zM530 281h1v1h-1zM531 280h1v1h-1zM532 279h2v1h-2zM534 278h1v1h-1zM535 277h1v1h-1zM536 276h1v1h-1zM537 275h1v1h-1zM538 274h1v1h-1zM539 273h1v1h-1zM540 272h2v1h-2zM542 271h1v1h-1zM543 270h1v1h-1zM544 269h2v1h-2zM546 268h1v1h-1zM547 267h2v1h-2zM549 266h1v1h-1zM550 265h2v1h-2zM552 264h1v1h-1zM553 263h1v1h-1zM554 262h1v1h-1zM555 261h1v1h-1zM556 260h1v1h-1zM557 259h1v1h-1zM558 258h1v1h-1zM559 257h1v1h-1zM560 256h1v1h-1zM561 255h1v1h-1zM562 254h1v1h-1zM563 253h1v1h-1zM652 253h1v1h-1zM564 252h2v1h-2zM643 252h9v1h-9zM653 252h4v1h-4zM566 251h1v1h-1zM639 251h4v1h-4zM657 251h5v1h-5zM567 250h1v1h-1zM635 250h4v1h-4zM662 250h5v1h-5zM568 249h1v1h-1zM631 249h4v1h-4zM667 249h6v1h-6zM569 248h1v1h-1zM627 248h4v1h-4zM673 248h6v1h-6zM570 247h1v1h-1zM623 247h4v1h-4zM679 247h4v1h-4zM571 246h2v1h-2zM618 246h5v1h-5zM683 246h3v1h-3zM573 245h1v1h-1zM615 245h3v1h-3zM686 245h2v1h-2zM574 244h3v1h-3zM613 244h2v1h-2zM688 244h2v1h-2zM577 243h3v1h-3zM610 243h3v1h-3zM690 243h3v1h-3zM580 242h4v1h-4zM607 242h3v1h-3zM693 242h2v1h-2zM584 241h7v1h-7zM605 241h2v1h-2zM695 241h2v1h-2zM1257 241h1v1h-1zM591 240h14v1h-14zM697 240h2v1h-2zM1246 240h11v1h-11zM1258 240h3v1h-3zM699 239h2v1h-2zM1241 239h5v1h-5zM1261 239h3v1h-3zM701 238h3v1h-3zM1238 238h3v1h-3zM1264 238h3v1h-3zM704 237h2v1h-2zM1236 237h2v1h-2zM1267 237h1v1h-1zM706 236h1v1h-1zM1234 236h2v1h-2zM1268 236h2v1h-2zM707 235h2v1h-2zM1232 235h2v1h-2zM1270 235h1v1h-1zM709 234h1v1h-1zM1231 234h1v1h-1zM1271 234h2v1h-2zM710 233h2v1h-2zM1230 233h1v1h-1zM1273 233h1v1h-1zM712 232h1v1h-1zM1228 232h2v1h-2zM1274 232h1v1h-1zM713 231h2v1h-2zM1227 231h1v1h-1zM1275 231h1v1h-1zM715 230h1v1h-1zM1226 230h1v1h-1zM1276 230h2v1h-2zM716 229h2v1h-2zM1225 229h1v1h-1zM1278 229h1v1h-1zM718 228h1v1h-1zM1224 228h1v1h-1zM1279 228h1v1h-1zM719 227h1v1h-1zM1222 227h2v1h-2zM1280 227h1v1h-1zM720 226h2v1h-2zM1221 226h1v1h-1zM1281 226h1v1h-1zM722 225h1v1h-1zM1220 225h1v1h-1zM1282 225h1v1h-1zM723 224h1v1h-1zM1218 224h2v1h-2zM1283 224h1v1h-1zM724 223h2v1h-2zM1217 223h1v1h-1zM1284 223h2v1h-2zM726 222h1v1h-1zM1216 222h1v1h-1zM1286 222h1v1h-1zM727 221h1v1h-1zM1214 221h2v1h-2zM1287 221h1v1h-1zM728 220h2v1h-2zM1213 220h1v1h-1zM1288 220h1v1h-1zM730 219h1v1h-1zM1212 219h1v1h-1zM1289 219h1v1h-1zM731 218h1v1h-1zM1210 218h2v1h-2zM1290 218h1v1h-1zM732 217h3v1h-3zM1209 217h1v1h-1zM1290 217h1v1h-1zM735 216h2v1h-2zM1207 216h2v1h-2zM1291 216h1v1h-1zM737 215h3v1h-3zM1205 215h2v1h-2zM1292 215h1v1h-1zM740 214h2v1h-2zM1203 214h2v1h-2zM1293 214h1v1h-1zM742 213h3v1h-3zM1201 213h2v1h-2zM1294 213h1v1h-1zM745 212h1v1h-1zM1200 212h1v1h-1zM1295 212h1v1h-1zM746 211h1v1h-1zM1198 211h2v1h-2zM1296 211h1v1h-1zM747 210h1v1h-1zM1197 210h1v1h-1zM1297 210h1v1h-1zM748 209h1v1h-1zM1195 209h2v1h-2zM1298 209h1v1h-1zM749 208h1v1h-1zM1194 208h1v1h-1zM1299 208h1v1h-1zM750 207h1v1h-1zM1192 207h2v1h-2zM1300 207h1v1h-1zM751 206h1v1h-1zM1191 206h1v1h-1zM1301 206h1v1h-1zM752 205h1v1h-1zM1190 205h1v1h-1zM1302 205h1v1h-1zM753 204h1v1h-1zM1188 204h2v1h-2zM1303 204h1v1h-1zM754 203h2v1h-2zM1186 203h2v1h-2zM1303 203h1v1h-1zM756 202h1v1h-1zM1184 202h2v1h-2zM1304 202h1v1h-1zM757 201h1v1h-1zM1182 201h2v1h-2zM1305 201h1v1h-1zM758 200h1v1h-1zM1180 200h2v1h-2zM1306 200h1v1h-1zM759 199h1v1h-1zM1178 199h2v1h-2zM1307 199h1v1h-1zM760 198h1v1h-1zM1174 198h4v1h-4zM1308 198h1v1h-1zM761 197h1v1h-1zM1170 197h4v1h-4zM1309 197h1v1h-1zM762 196h1v1h-1zM1168 196h2v1h-2zM1310 196h1v1h-1zM763 195h1v1h-1zM1166 195h2v1h-2zM1311 195h1v1h-1zM764 194h1v1h-1zM1165 194h1v1h-1zM1312 194h1v1h-1zM765 193h2v1h-2zM1163 193h2v1h-2zM1313 193h1v1h-1zM767 192h1v1h-1zM1161 192h2v1h-2zM1313 192h1v1h-1zM768 191h1v1h-1zM1159 191h2v1h-2zM1314 191h1v1h-1zM769 190h1v1h-1zM1157 190h2v1h-2zM1315 190h1v1h-1zM770 189h1v1h-1zM1154 189h3v1h-3zM1316 189h1v1h-1zM771 188h1v1h-1zM1152 188h2v1h-2zM1317 188h1v1h-1zM772 187h1v1h-1zM1150 187h2v1h-2zM1317 187h1v1h-1zM773 186h1v1h-1zM1147 186h3v1h-3zM1318 186h1v1h-1zM774 185h2v1h-2zM1143 185h4v1h-4zM1319 185h1v1h-1zM776 184h1v1h-1zM1140 184h3v1h-3zM1320 184h1v1h-1zM777 183h1v1h-1zM1138 183h2v1h-2zM1320 183h1v1h-1zM778 182h1v1h-1zM1137 182h1v1h-1zM1321 182h1v1h-1zM779 181h1v1h-1zM1136 181h1v1h-1zM1322 181h1v1h-1zM780 180h1v1h-1zM1135 180h1v1h-1zM1323 180h1v1h-1zM781 179h1v1h-1zM880 179h1v1h-1zM1134 179h1v1h-1zM1324 179h1v1h-1zM782 178h2v1h-2zM867 178h13v1h-13zM881 178h3v1h-3zM1133 178h1v1h-1zM1325 178h1v1h-1zM784 177h1v1h-1zM863 177h4v1h-4zM884 177h5v1h-5zM1132 177h1v1h-1zM1326 177h1v1h-1zM785 176h1v1h-1zM859 176h4v1h-4zM889 176h4v1h-4zM1132 176h1v1h-1zM1326 176h1v1h-1zM786 175h1v1h-1zM857 175h2v1h-2zM893 175h4v1h-4zM1131 175h1v1h-1zM1327 175h1v1h-1zM787 174h2v1h-2zM854 174h3v1h-3zM897 174h4v1h-4zM1130 174h1v1h-1zM1328 174h1v1h-1zM789 173h2v1h-2zM852 173h2v1h-2zM901 173h4v1h-4zM1129 173h1v1h-1zM791 172h2v1h-2zM835 172h17v1h-17zM905 172h5v1h-5zM1128 172h1v1h-1zM793 171h2v1h-2zM828 171h7v1h-7zM910 171h5v1h-5zM1127 171h1v1h-1zM795 170h2v1h-2zM823 170h5v1h-5zM915 170h5v1h-5zM1127 170h1v1h-1zM797 169h2v1h-2zM820 169h3v1h-3zM920 169h2v1h-2zM1126 169h1v1h-1zM799 168h10v1h-10zM816 168h4v1h-4zM922 168h2v1h-2zM1125 168h1v1h-1zM809 167h7v1h-7zM924 167h3v1h-3zM1124 167h1v1h-1zM927 166h2v1h-2zM1123 166h1v1h-1zM929 165h3v1h-3zM1123 165h1v1h-1zM932 164h2v1h-2zM1122 164h1v1h-1zM934 163h2v1h-2zM1121 163h1v1h-1zM936 162h2v1h-2zM1120 162h1v1h-1zM938 161h2v1h-2zM1119 161h1v1h-1zM940 160h2v1h-2zM1118 160h1v1h-1zM942 159h2v1h-2zM1117 159h1v1h-1zM944 158h2v1h-2zM1117 158h1v1h-1zM946 157h2v1h-2zM1116 157h1v1h-1zM948 156h2v1h-2zM1115 156h1v1h-1zM950 155h2v1h-2zM1114 155h1v1h-1zM952 154h1v1h-1zM1114 154h1v1h-1zM953 153h2v1h-2zM1113 153h1v1h-1zM955 152h2v1h-2zM1112 152h1v1h-1zM957 151h1v1h-1zM1111 151h1v1h-1zM958 150h2v1h-2zM1111 150h1v1h-1zM960 149h1v1h-1zM1110 149h1v1h-1zM961 148h2v1h-2zM982 148h1v1h-1zM1109 148h1v1h-1zM963 147h2v1h-2zM979 147h3v1h-3zM983 147h3v1h-3zM1108 147h1v1h-1zM965 146h2v1h-2zM975 146h4v1h-4zM986 146h5v1h-5zM1108 146h1v1h-1zM967 145h2v1h-2zM971 145h4v1h-4zM991 145h4v1h-4zM1107 145h1v1h-1zM969 144h2v1h-2zM995 144h10v1h-10zM1106 144h1v1h-1zM1005 143h13v1h-13zM1105 143h1v1h-1zM1018 142h2v1h-2zM1104 142h1v1h-1zM1020 141h3v1h-3zM1103 141h1v1h-1zM1023 140h2v1h-2zM1101 140h2v1h-2zM1025 139h1v1h-1zM1100 139h1v1h-1zM1026 138h2v1h-2zM1099 138h1v1h-1zM1028 137h2v1h-2zM1098 137h1v1h-1zM1030 136h1v1h-1zM1097 136h1v1h-1zM1031 135h3v1h-3zM1096 135h1v1h-1zM1034 134h2v1h-2zM1095 134h1v1h-1zM1036 133h2v1h-2zM1092 133h3v1h-3zM1038 132h1v1h-1zM1090 132h2v1h-2zM1039 131h8v1h-8zM1054 131h8v1h-8zM1087 131h3v1h-3zM1047 130h7v1h-7zM1062 130h7v1h-7zM1084 130h3v1h-3zM1069 129h15v1h-15z" fill="#ffa500" shape-rendering="crispEdges"/>
<path d="M0 285h1v1h-1zM672 285h3v1h-3zM0 286h1v1h-1zM669 286h3v1h-3zM1 287h1v1h-1zM667 287h2v1h-2zM2 288h1v1h-1zM664 288h3v1h-3zM3 289h1v1h-1zM662 289h2v1h-2zM4 290h1v1h-1zM660 290h2v1h-2zM5 291h2v1h-2zM657 291h3v1h-3zM7 292h1v1h-1zM655 292h2v1h-2zM8 293h1v1h-1zM653 293h2v1h-2zM9 294h1v1h-1zM650 294h3v1h-3zM10 295h2v1h-2zM648 295h2v1h-2zM12 296h3v1h-3zM646 296h2v1h-2zM15 297h2v1h-2zM644 297h2v1h-2zM17 298h3v1h-3zM641 298h3v1h-3zM20 299h2v1h-2zM639 299h2v1h-2zM22 300h3v1h-3zM636 300h3v1h-3zM25 301h4v1h-4zM634 301h2v1h-2zM29 302h5v1h-5zM628 302h6v1h-6zM34 303h2v1h-2zM622 303h6v1h-6zM36 304h3v1h-3zM610 304h12v1h-12zM39 305h3v1h-3zM598 305h12v1h-12zM42 306h3v1h-3zM585 306h13v1h-13zM45 307h3v1h-3zM571 307h14v1h-14zM48 308h3v1h-3zM558 308h13v1h-13zM51 309h4v1h-4zM549 309h9v1h-9zM55 310h4v1h-4zM540 310h9v1h-9zM59 311h5v1h-5zM532 311h8v1h-8zM64 312h8v1h-8zM527 312h5v1h-5zM72 313h9v1h-9zM521 313h6v1h-6zM81 314h7v1h-7zM515 314h6v1h-6zM88 315h6v1h-6zM511 315h4v1h-4zM94 316h6v1h-6zM507 316h4v1h-4zM100 317h40v1h-40zM504 317h3v1h-3zM140 318h12v1h-12zM500 318h4v1h-4zM152 319h10v1h-10zM496 319h4v1h-4zM162 320h10v1h-10zM493 320h3v1h-3zM172 321h7v1h-7zM490 321h3v1h-3zM179 322h6v1h-6zM488 322h2v1h-2zM185 323h3v1h-3zM485 323h3v1h-3zM188 324h3v1h-3zM482 324h3v1h-3zM191 325h3v1h-3zM479 325h3v1h-3zM194 326h3v1h-3zM477 326h2v1h-2zM197 327h3v1h-3zM474 327h3v1h-3zM200 328h3v1h-3zM471 328h3v1h-3zM203 329h3v1h-3zM468 329h3v1h-3zM206 330h4v1h-4zM465 330h3v1h-3zM210 331h3v1h-3zM462 331h3v1h-3zM213 332h4v1h-4zM460 332h2v1h-2zM217 333h4v1h-4zM455 333h5v1h-5zM221 334h4v1h-4zM450 334h5v1h-5zM225 335h4v1h-4zM446 335h4v1h-4zM229 336h3v1h-3zM441 336h5v1h-5zM232 337h3v1h-3zM438 337h3v1h-3zM235 338h3v1h-3zM330 338h7v1h-7zM434 338h4v1h-4zM238 339h4v1h-4zM321 339h9v1h-9zM337 339h9v1h-9zM431 339h3v1h-3zM242 340h4v1h-4zM313 340h8v1h-8zM346 340h6v1h-6zM428 340h3v1h-3zM246 341h34v1h-34zM306 341h7v1h-7zM352 341h6v1h-6zM424 341h4v1h-4zM280 342h14v1h-14zM299 342h7v1h-7zM358 342h7v1h-7zM421 342h3v1h-3zM294 343h5v1h-5zM365 343h6v1h-6zM417 343h4v1h-4zM371 344h6v1h-6zM412 344h5v1h-5zM377 345h7v1h-7zM407 345h5v1h-5zM384 346h6v1h-6zM402 346h5v1h-5zM390 347h12v1h-12zM675 284h2v1h-2zM677 283h3v1h-3zM680 282h3v1h-3zM683 281h2v1h-2zM685 280h4v1h-4zM689 279h3v1h-3zM692 278h3v1h-3zM695 277h3v1h-3zM698 276h4v1h-4zM702 275h3v1h-3zM705 274h2v1h-2zM707 273h3v1h-3zM710 272h3v1h-3zM713 271h3v1h-3zM716 270h3v1h-3zM719 269h3v1h-3zM722 268h3v1h-3zM725 267h3v1h-3zM728 266h3v1h-3zM731 265h4v1h-4zM735 264h3v1h-3zM738 263h4v1h-4zM742 262h3v1h-3zM745 261h2v1h-2zM747 260h3v1h-3zM750 259h3v1h-3zM753 258h3v1h-3zM756 257h3v1h-3zM759 256h3v1h-3zM762 255h3v1h-3zM765 254h2v1h-2zM767 253h2v1h-2zM769 252h2v1h-2zM771 251h2v1h-2zM773 250h2v1h-2zM775 249h2v1h-2zM777 248h2v1h-2zM779 247h2v1h-2zM781 246h2v1h-2zM783 245h2v1h-2zM785 244h2v1h-2zM787 243h2v1h-2zM789 242h2v1h-2zM791 241h2v1h-2zM793 240h2v1h-2zM795 239h2v1h-2zM797 238h2v1h-2zM799 237h2v1h-2zM801 236h2v1h-2zM803 235h2v1h-2zM805 234h2v1h-2zM807 233h2v1h-2zM809 232h2v1h-2zM811 231h2v1h-2zM813 230h2v1h-2zM815 229h2v1h-2zM817 228h2v1h-2zM819 227h2v1h-2zM821 226h2v1h-2zM823 225h2v1h-2zM825 224h2v1h-2zM827 223h2v1h-2zM829 222h3v1h-3zM832 221h2v1h-2zM834 220h3v1h-3zM837 219h2v1h-2zM839 218h3v1h-3zM842 217h4v1h-4zM846 216h3v1h-3zM849 215h4v1h-4zM853 214h3v1h-3zM856 213h4v1h-4zM860 212h3v1h-3zM863 211h4v1h-4zM867 210h3v1h-3zM870 209h4v1h-4zM874 208h4v1h-4zM878 207h5v1h-5zM883 206h5v1h-5zM888 205h6v1h-6zM894 204h9v1h-9zM903 203h8v1h-8zM911 202h9v1h-9zM920 201h3v1h-3zM923 200h3v1h-3zM926 199h4v1h-4zM930 198h3v1h-3zM933 197h3v1h-3zM936 196h2v1h-2zM938 195h3v1h-3zM941 194h2v1h-2zM943 193h3v1h-3zM946 192h2v1h-2zM948 191h2v1h-2zM950 190h3v1h-3zM953 189h3v1h-3zM956 188h2v1h-2zM958 187h3v1h-3zM961 186h3v1h-3zM964 185h5v1h-5zM969 184h9v1h-9zM1233 184h17v1h-17zM978 183h6v1h-6zM1224 183h9v1h-9zM1250 183h3v1h-3zM984 182h6v1h-6zM1218 182h6v1h-6zM1253 182h6v1h-6zM990 181h6v1h-6zM1215 181h3v1h-3zM1259 181h7v1h-7zM996 180h6v1h-6zM1211 180h4v1h-4zM1266 180h6v1h-6zM1002 179h7v1h-7zM1207 179h4v1h-4zM1272 179h5v1h-5zM1009 178h6v1h-6zM1204 178h3v1h-3zM1277 178h6v1h-6zM1015 177h2v1h-2zM1199 177h5v1h-5zM1283 177h6v1h-6zM1017 176h3v1h-3zM1194 176h5v1h-5zM1289 176h5v1h-5zM1020 175h3v1h-3zM1190 175h4v1h-4zM1294 175h4v1h-4zM1023 174h3v1h-3zM1186 174h4v1h-4zM1298 174h3v1h-3zM1026 173h3v1h-3zM1181 173h5v1h-5zM1301 173h3v1h-3zM1029 172h2v1h-2zM1177 172h4v1h-4zM1304 172h3v1h-3zM1031 171h3v1h-3zM1172 171h5v1h-5zM1307 171h4v1h-4zM1034 170h3v1h-3zM1167 170h5v1h-5zM1311 170h4v1h-4zM1037 169h2v1h-2zM1161 169h6v1h-6zM1315 169h4v1h-4zM1039 168h3v1h-3zM1157 168h4v1h-4zM1319 168h5v1h-5zM1042 167h3v1h-3zM1154 167h3v1h-3zM1324 167h5v1h-5zM1045 166h3v1h-3zM1150 166h4v1h-4zM1048 165h3v1h-3zM1146 165h4v1h-4zM1051 164h3v1h-3zM1143 164h3v1h-3zM1054 163h3v1h-3zM1138 163h5v1h-5zM1057 162h3v1h-3zM1133 162h5v1h-5zM1060 161h3v1h-3zM1129 161h4v1h-4zM1063 160h3v1h-3zM1125 160h4v1h-4zM1066 159h3v1h-3zM1122 159h3v1h-3zM1069 158h3v1h-3zM1118 158h4v1h-4zM1072 157h3v1h-3zM1115 157h3v1h-3zM1075 156h6v1h-6zM1105 156h10v1h-10zM1081 155h24v1h-24z" fill="#ff00ff" shape-rendering="crispEdges"/>
<path d="M0 681h1v1h-1zM18 681h3v1h-3zM1 682h2v1h-2zM12 682h3v1h-3zM6 683h3v1h-3zM24 679h3v1h-3zM30 677h2v1h-2zM32 676h1v1h-1zM36 673h2v1h-2zM1195 673h3v1h-3zM1201 673h3v1h-3zM1207 673h2v1h-2zM38 672h1v1h-1zM1190 672h2v1h-2zM1209 672h1v1h-1zM1213 672h1v1h-1zM42 669h2v1h-2zM1183 669h2v1h-2zM1221 669h1v1h-1zM44 668h1v1h-1zM1225 668h2v1h-2zM48 665h1v1h-1zM1177 665h1v1h-1zM1231 665h1v1h-1zM49 664h1v1h-1zM1232 664h2v1h-2zM50 663h1v1h-1zM1173 663h1v1h-1zM54 660h2v1h-2zM56 659h1v1h-1zM60 656h1v1h-1zM1166 656h1v1h-1zM61 655h2v1h-2zM1165 655h1v1h-1zM66 652h1v1h-1zM1251 652h1v1h-1zM67 651h1v1h-1zM1161 651h1v1h-1zM68 650h1v1h-1zM1161 650h1v1h-1zM72 647h1v1h-1zM1257 647h1v1h-1zM73 646h2v1h-2zM78 643h1v1h-1zM1154 643h1v1h-1zM1262 643h1v1h-1zM79 642h2v1h-2zM420 642h3v1h-3zM426 642h3v1h-3zM1263 642h1v1h-1zM84 639h2v1h-2zM410 639h1v1h-1zM1150 639h1v1h-1zM86 638h1v1h-1zM409 638h1v1h-1zM438 638h2v1h-2zM1149 638h1v1h-1zM1267 638h1v1h-1zM90 636h1v1h-1zM1269 636h1v1h-1zM91 635h2v1h-2zM404 635h1v1h-1zM96 633h3v1h-3zM446 633h1v1h-1zM1144 633h1v1h-1zM102 631h2v1h-2zM398 631h1v1h-1zM1142 631h1v1h-1zM1274 631h1v1h-1zM104 630h1v1h-1zM396 630h2v1h-2zM1275 630h1v1h-1zM108 629h1v1h-1zM450 629h1v1h-1zM109 628h2v1h-2zM451 628h1v1h-1zM114 627h1v1h-1zM392 627h1v1h-1zM452 627h1v1h-1zM1138 627h1v1h-1zM115 626h2v1h-2zM390 626h2v1h-2zM1137 626h1v1h-1zM1279 626h1v1h-1zM120 624h3v1h-3zM264 624h3v1h-3zM270 624h3v1h-3zM276 624h2v1h-2zM456 624h1v1h-1zM1280 624h1v1h-1zM126 622h2v1h-2zM288 622h2v1h-2zM385 622h1v1h-1zM458 622h1v1h-1zM128 621h1v1h-1zM252 621h3v1h-3zM290 621h1v1h-1zM384 621h1v1h-1zM1132 621h1v1h-1zM132 620h1v1h-1zM294 620h3v1h-3zM1131 620h1v1h-1zM1284 620h1v1h-1zM133 619h2v1h-2zM248 619h1v1h-1zM1130 619h1v1h-1zM1285 619h1v1h-1zM138 617h1v1h-1zM302 617h1v1h-1zM378 617h2v1h-2zM462 617h1v1h-1zM139 616h2v1h-2zM241 616h2v1h-2zM463 616h1v1h-1zM1126 616h1v1h-1zM144 614h1v1h-1zM308 614h1v1h-1zM374 614h1v1h-1zM1124 614h1v1h-1zM1289 614h1v1h-1zM145 613h2v1h-2zM235 613h2v1h-2zM312 613h1v1h-1zM372 613h2v1h-2zM1290 613h1v1h-1zM150 611h1v1h-1zM230 611h1v1h-1zM466 611h1v1h-1zM1052 611h3v1h-3zM1058 611h3v1h-3zM1065 611h2v1h-2zM1120 611h1v1h-1zM151 610h2v1h-2zM228 610h2v1h-2zM318 610h2v1h-2zM367 610h2v1h-2zM467 610h1v1h-1zM892 610h1v1h-1zM896 610h2v1h-2zM1070 610h3v1h-3zM1118 610h2v1h-2zM156 608h3v1h-3zM223 608h2v1h-2zM324 608h1v1h-1zM362 608h1v1h-1zM884 608h1v1h-1zM902 608h3v1h-3zM1046 608h1v1h-1zM1078 608h1v1h-1zM1112 608h3v1h-3zM1294 608h1v1h-1zM162 606h3v1h-3zM218 606h1v1h-1zM470 606h1v1h-1zM878 606h2v1h-2zM909 606h2v1h-2zM1042 606h1v1h-1zM1083 606h2v1h-2zM1106 606h3v1h-3zM1296 606h1v1h-1zM168 605h1v1h-1zM216 605h2v1h-2zM330 605h3v1h-3zM354 605h3v1h-3zM471 605h1v1h-1zM650 605h3v1h-3zM914 605h1v1h-1zM1040 605h2v1h-2zM1088 605h3v1h-3zM1102 605h1v1h-1zM169 604h2v1h-2zM210 604h3v1h-3zM336 604h3v1h-3zM348 604h3v1h-3zM472 604h1v1h-1zM640 604h1v1h-1zM644 604h3v1h-3zM656 604h2v1h-2zM873 604h2v1h-2zM915 604h2v1h-2zM1094 604h3v1h-3zM1100 604h2v1h-2zM174 603h3v1h-3zM206 603h1v1h-1zM342 603h3v1h-3zM632 603h3v1h-3zM638 603h2v1h-2zM658 603h1v1h-1zM872 603h1v1h-1zM180 602h3v1h-3zM186 602h3v1h-3zM199 602h2v1h-2zM204 602h2v1h-2zM662 602h2v1h-2zM920 602h2v1h-2zM1036 602h1v1h-1zM1299 602h1v1h-1zM192 601h3v1h-3zM198 601h1v1h-1zM627 601h2v1h-2zM664 601h1v1h-1zM868 601h1v1h-1zM922 601h1v1h-1zM1035 601h1v1h-1zM1300 601h1v1h-1zM222 607h1v1h-1zM325 607h2v1h-2zM360 607h2v1h-2zM880 607h1v1h-1zM908 607h1v1h-1zM1082 607h1v1h-1zM1295 607h1v1h-1zM234 612h1v1h-1zM313 612h2v1h-2zM466 612h1v1h-1zM1064 612h1v1h-1zM1291 612h1v1h-1zM240 615h1v1h-1zM306 615h2v1h-2zM1125 615h1v1h-1zM246 618h2v1h-2zM300 618h2v1h-2zM380 618h1v1h-1zM461 618h1v1h-1zM1285 618h1v1h-1zM258 623h3v1h-3zM278 623h1v1h-1zM282 623h3v1h-3zM386 623h1v1h-1zM457 623h1v1h-1zM320 609h1v1h-1zM366 609h1v1h-1zM885 609h2v1h-2zM890 609h2v1h-2zM898 609h1v1h-1zM1047 609h2v1h-2zM1076 609h2v1h-2zM402 634h2v1h-2zM444 634h2v1h-2zM408 637h1v1h-1zM440 637h1v1h-1zM1148 637h1v1h-1zM1268 637h1v1h-1zM414 641h3v1h-3zM432 641h2v1h-2zM434 640h1v1h-1zM474 600h1v1h-1zM626 600h1v1h-1zM668 600h1v1h-1zM866 600h2v1h-2zM1034 600h1v1h-1zM1301 600h1v1h-1zM475 599h1v1h-1zM622 599h1v1h-1zM669 599h2v1h-2zM926 599h1v1h-1zM476 598h1v1h-1zM620 598h2v1h-2zM927 598h2v1h-2zM479 594h1v1h-1zM614 594h1v1h-1zM933 594h1v1h-1zM1307 594h1v1h-1zM480 593h1v1h-1zM680 593h1v1h-1zM934 593h1v1h-1zM480 592h1v1h-1zM609 592h2v1h-2zM681 592h1v1h-1zM856 592h1v1h-1zM483 588h1v1h-1zM604 588h1v1h-1zM687 588h1v1h-1zM940 588h1v1h-1zM1312 588h1v1h-1zM484 587h1v1h-1zM602 587h2v1h-2zM688 587h1v1h-1zM849 587h2v1h-2zM485 586h1v1h-1zM848 586h1v1h-1zM487 582h1v1h-1zM596 582h1v1h-1zM842 582h1v1h-1zM946 582h1v1h-1zM1318 582h1v1h-1zM488 581h1v1h-1zM698 581h1v1h-1zM489 580h1v1h-1zM699 580h2v1h-2zM838 580h1v1h-1zM1012 580h1v1h-1zM491 576h1v1h-1zM705 576h1v1h-1zM832 576h1v1h-1zM1324 576h1v1h-1zM492 575h1v1h-1zM706 575h1v1h-1zM830 575h2v1h-2zM493 574h1v1h-1zM586 574h1v1h-1zM956 574h1v1h-1zM1005 574h2v1h-2zM496 570h1v1h-1zM717 570h2v1h-2zM1000 570h1v1h-1zM497 569h1v1h-1zM579 569h2v1h-2zM819 569h2v1h-2zM962 569h1v1h-1zM998 569h2v1h-2zM497 568h1v1h-1zM578 568h1v1h-1zM722 568h3v1h-3zM818 568h1v1h-1zM963 568h2v1h-2zM501 564h1v1h-1zM572 564h2v1h-2zM736 564h1v1h-1zM740 564h2v1h-2zM806 564h3v1h-3zM974 564h1v1h-1zM986 564h3v1h-3zM502 563h1v1h-1zM742 563h1v1h-1zM746 563h3v1h-3zM752 563h2v1h-2zM800 563h3v1h-3zM975 563h2v1h-2zM980 563h3v1h-3zM502 562h1v1h-1zM754 562h1v1h-1zM758 562h3v1h-3zM764 562h3v1h-3zM790 562h1v1h-1zM794 562h3v1h-3zM506 558h1v1h-1zM507 557h1v1h-1zM508 556h1v1h-1zM561 556h2v1h-2zM512 552h1v1h-1zM556 552h1v1h-1zM513 551h1v1h-1zM554 551h2v1h-2zM514 550h1v1h-1zM518 547h1v1h-1zM548 547h1v1h-1zM519 546h2v1h-2zM524 545h2v1h-2zM543 545h2v1h-2zM526 544h1v1h-1zM530 544h1v1h-1zM542 544h1v1h-1zM531 543h2v1h-2zM536 543h3v1h-3zM549 548h2v1h-2zM560 555h1v1h-1zM566 559h1v1h-1zM567 560h1v1h-1zM568 561h1v1h-1zM770 561h3v1h-3zM776 561h3v1h-3zM782 561h3v1h-3zM788 561h2v1h-2zM574 565h1v1h-1zM734 565h2v1h-2zM969 565h2v1h-2zM584 572h1v1h-1zM712 572h1v1h-1zM824 572h2v1h-2zM958 572h1v1h-1zM1328 572h1v1h-1zM585 573h1v1h-1zM710 573h2v1h-2zM826 573h1v1h-1zM957 573h1v1h-1zM1004 573h1v1h-1zM590 577h1v1h-1zM704 577h1v1h-1zM952 577h1v1h-1zM1323 577h1v1h-1zM591 578h1v1h-1zM951 578h1v1h-1zM1010 578h1v1h-1zM1322 578h1v1h-1zM592 579h1v1h-1zM836 579h2v1h-2zM950 579h1v1h-1zM1011 579h1v1h-1zM597 583h1v1h-1zM694 583h1v1h-1zM843 583h2v1h-2zM945 583h1v1h-1zM1317 583h1v1h-1zM598 584h1v1h-1zM693 584h1v1h-1zM944 584h1v1h-1zM1016 584h1v1h-1zM1316 584h1v1h-1zM608 591h1v1h-1zM682 591h1v1h-1zM855 591h1v1h-1zM1024 591h1v1h-1zM615 595h2v1h-2zM676 595h1v1h-1zM860 595h1v1h-1zM932 595h1v1h-1zM1028 595h1v1h-1zM1306 595h1v1h-1zM674 596h2v1h-2zM861 596h1v1h-1zM1029 596h2v1h-2zM1305 596h1v1h-1zM686 589h1v1h-1zM939 589h1v1h-1zM1022 589h1v1h-1zM1311 589h1v1h-1zM692 585h1v1h-1zM1017 585h2v1h-2zM716 571h1v1h-1zM728 566h3v1h-3zM812 566h1v1h-1zM968 566h1v1h-1zM992 566h2v1h-2zM813 567h2v1h-2zM994 567h1v1h-1zM854 590h1v1h-1zM938 590h1v1h-1zM1023 590h1v1h-1zM1311 590h1v1h-1zM862 597h1v1h-1zM1136 625h1v1h-1zM1279 625h1v1h-1zM1143 632h1v1h-1zM1273 632h1v1h-1zM1155 644h1v1h-1zM1261 644h1v1h-1zM1156 645h1v1h-1zM1160 649h1v1h-1zM1255 649h1v1h-1zM1167 657h1v1h-1zM1244 657h2v1h-2zM1171 661h1v1h-1zM1238 661h2v1h-2zM1172 662h1v1h-1zM1237 662h1v1h-1zM1178 666h1v1h-1zM1179 667h1v1h-1zM1227 667h1v1h-1zM1185 670h1v1h-1zM1219 670h2v1h-2zM1189 671h1v1h-1zM1214 671h2v1h-2zM1243 658h1v1h-1zM1249 654h1v1h-1zM1250 653h1v1h-1zM1256 648h1v1h-1z" fill="#ff0000" shape-rendering="crispEdges"/>
<path d="M1 768h4v1h-4zM9 768h1v1h-1zM232 768h1v1h-1zM242 768h1v1h-1zM344 768h1v1h-1zM402 768h1v1h-1zM977 768h1v1h-1zM986 768h2v1h-2zM1105 768h1v1h-1zM1172 768h1v1h-1zM5 769h4v1h-4zM233 769h3v1h-3zM242 769h1v1h-1zM345 769h1v1h-1zM402 769h1v1h-1zM978 769h8v1h-8zM1106 769h3v1h-3zM1161 769h1v1h-1zM1171 769h1v1h-1zM10 767h1v1h-1zM231 767h1v1h-1zM243 767h1v1h-1zM344 767h1v1h-1zM403 767h1v1h-1zM825 767h1v1h-1zM977 767h1v1h-1zM988 767h2v1h-2zM1104 767h1v1h-1zM1173 767h1v1h-1zM11 766h1v1h-1zM209 766h9v1h-9zM230 766h1v1h-1zM243 766h1v1h-1zM343 766h1v1h-1zM403 766h1v1h-1zM825 766h3v1h-3zM976 766h1v1h-1zM990 766h2v1h-2zM1102 766h2v1h-2zM1174 766h1v1h-1zM1192 766h3v1h-3zM11 765h1v1h-1zM207 765h2v1h-2zM218 765h1v1h-1zM229 765h1v1h-1zM244 765h1v1h-1zM343 765h1v1h-1zM404 765h1v1h-1zM824 765h1v1h-1zM828 765h2v1h-2zM976 765h1v1h-1zM992 765h11v1h-11zM1016 765h1v1h-1zM1101 765h1v1h-1zM1175 765h1v1h-1zM1190 765h2v1h-2zM1195 765h4v1h-4zM11 764h1v1h-1zM205 764h2v1h-2zM219 764h2v1h-2zM228 764h1v1h-1zM244 764h1v1h-1zM343 764h1v1h-1zM404 764h1v1h-1zM586 764h1v1h-1zM823 764h1v1h-1zM830 764h2v1h-2zM865 764h1v1h-1zM976 764h1v1h-1zM1003 764h4v1h-4zM1012 764h4v1h-4zM1017 764h1v1h-1zM1099 764h2v1h-2zM1175 764h1v1h-1zM1187 764h3v1h-3zM1199 764h2v1h-2zM12 763h1v1h-1zM203 763h2v1h-2zM221 763h2v1h-2zM227 763h1v1h-1zM244 763h1v1h-1zM342 763h1v1h-1zM404 763h1v1h-1zM585 763h1v1h-1zM587 763h2v1h-2zM822 763h1v1h-1zM832 763h1v1h-1zM863 763h2v1h-2zM866 763h1v1h-1zM975 763h1v1h-1zM1007 763h5v1h-5zM1018 763h1v1h-1zM1098 763h1v1h-1zM1176 763h1v1h-1zM1182 763h5v1h-5zM1201 763h1v1h-1zM1217 763h1v1h-1zM12 762h1v1h-1zM202 762h1v1h-1zM223 762h1v1h-1zM226 762h1v1h-1zM245 762h1v1h-1zM342 762h1v1h-1zM405 762h1v1h-1zM584 762h1v1h-1zM589 762h2v1h-2zM616 762h2v1h-2zM821 762h1v1h-1zM833 762h1v1h-1zM860 762h3v1h-3zM867 762h1v1h-1zM975 762h1v1h-1zM1019 762h1v1h-1zM1096 762h2v1h-2zM1177 762h5v1h-5zM1202 762h2v1h-2zM1216 762h1v1h-1zM1218 762h1v1h-1zM13 761h1v1h-1zM198 761h4v1h-4zM224 761h2v1h-2zM245 761h1v1h-1zM341 761h1v1h-1zM405 761h1v1h-1zM584 761h1v1h-1zM591 761h2v1h-2zM614 761h2v1h-2zM618 761h1v1h-1zM820 761h1v1h-1zM834 761h1v1h-1zM858 761h2v1h-2zM868 761h2v1h-2zM975 761h1v1h-1zM1019 761h1v1h-1zM1094 761h2v1h-2zM1204 761h1v1h-1zM1215 761h1v1h-1zM1219 761h1v1h-1zM13 760h1v1h-1zM81 760h1v1h-1zM194 760h4v1h-4zM246 760h1v1h-1zM341 760h1v1h-1zM406 760h1v1h-1zM583 760h1v1h-1zM593 760h2v1h-2zM611 760h3v1h-3zM619 760h1v1h-1zM819 760h1v1h-1zM835 760h2v1h-2zM857 760h1v1h-1zM870 760h1v1h-1zM975 760h1v1h-1zM1020 760h1v1h-1zM1091 760h3v1h-3zM1205 760h1v1h-1zM1214 760h1v1h-1zM1220 760h1v1h-1zM14 759h1v1h-1zM56 759h10v1h-10zM79 759h2v1h-2zM82 759h1v1h-1zM193 759h1v1h-1zM246 759h1v1h-1zM340 759h1v1h-1zM406 759h1v1h-1zM583 759h1v1h-1zM595 759h3v1h-3zM608 759h3v1h-3zM620 759h2v1h-2zM818 759h1v1h-1zM837 759h1v1h-1zM855 759h2v1h-2zM871 759h2v1h-2zM974 759h1v1h-1zM1021 759h1v1h-1zM1088 759h3v1h-3zM1206 759h1v1h-1zM1213 759h1v1h-1zM1221 759h1v1h-1zM14 758h1v1h-1zM53 758h3v1h-3zM66 758h2v1h-2zM78 758h1v1h-1zM83 758h1v1h-1zM192 758h1v1h-1zM247 758h1v1h-1zM340 758h1v1h-1zM407 758h1v1h-1zM545 758h2v1h-2zM582 758h1v1h-1zM598 758h2v1h-2zM604 758h4v1h-4zM622 758h1v1h-1zM817 758h1v1h-1zM838 758h1v1h-1zM852 758h3v1h-3zM873 758h1v1h-1zM974 758h1v1h-1zM1021 758h1v1h-1zM1086 758h2v1h-2zM1206 758h1v1h-1zM1212 758h1v1h-1zM1222 758h1v1h-1zM14 757h1v1h-1zM49 757h4v1h-4zM68 757h2v1h-2zM76 757h2v1h-2zM84 757h1v1h-1zM191 757h1v1h-1zM247 757h1v1h-1zM339 757h1v1h-1zM407 757h1v1h-1zM543 757h2v1h-2zM547 757h4v1h-4zM582 757h1v1h-1zM600 757h4v1h-4zM623 757h2v1h-2zM815 757h2v1h-2zM839 757h1v1h-1zM850 757h2v1h-2zM874 757h1v1h-1zM974 757h1v1h-1zM1022 757h1v1h-1zM1083 757h3v1h-3zM1207 757h1v1h-1zM1211 757h1v1h-1zM1223 757h1v1h-1zM15 756h1v1h-1zM47 756h2v1h-2zM70 756h2v1h-2zM74 756h2v1h-2zM85 756h1v1h-1zM153 756h1v1h-1zM190 756h1v1h-1zM247 756h1v1h-1zM339 756h1v1h-1zM408 756h1v1h-1zM541 756h2v1h-2zM551 756h11v1h-11zM581 756h1v1h-1zM625 756h1v1h-1zM813 756h2v1h-2zM840 756h1v1h-1zM847 756h3v1h-3zM875 756h1v1h-1zM973 756h1v1h-1zM1022 756h1v1h-1zM1082 756h1v1h-1zM1208 756h1v1h-1zM1210 756h1v1h-1zM1224 756h1v1h-1zM15 755h1v1h-1zM44 755h3v1h-3zM72 755h2v1h-2zM86 755h1v1h-1zM152 755h1v1h-1zM154 755h1v1h-1zM169 755h2v1h-2zM190 755h1v1h-1zM248 755h1v1h-1zM339 755h1v1h-1zM408 755h1v1h-1zM539 755h2v1h-2zM562 755h3v1h-3zM581 755h1v1h-1zM626 755h1v1h-1zM810 755h3v1h-3zM841 755h6v1h-6zM876 755h2v1h-2zM973 755h1v1h-1zM1023 755h1v1h-1zM1081 755h1v1h-1zM1209 755h1v1h-1zM1225 755h3v1h-3zM16 754h1v1h-1zM42 754h2v1h-2zM87 754h1v1h-1zM151 754h1v1h-1zM155 754h2v1h-2zM167 754h2v1h-2zM171 754h5v1h-5zM189 754h1v1h-1zM248 754h1v1h-1zM338 754h1v1h-1zM409 754h1v1h-1zM538 754h1v1h-1zM565 754h3v1h-3zM581 754h1v1h-1zM627 754h1v1h-1zM793 754h17v1h-17zM878 754h1v1h-1zM973 754h1v1h-1zM1023 754h1v1h-1zM1080 754h1v1h-1zM1228 754h5v1h-5zM16 753h1v1h-1zM23 753h6v1h-6zM37 753h5v1h-5zM88 753h1v1h-1zM94 753h12v1h-12zM150 753h1v1h-1zM157 753h2v1h-2zM164 753h3v1h-3zM176 753h3v1h-3zM188 753h1v1h-1zM249 753h1v1h-1zM253 753h8v1h-8zM328 753h5v1h-5zM337 753h1v1h-1zM410 753h1v1h-1zM536 753h2v1h-2zM568 753h2v1h-2zM580 753h1v1h-1zM628 753h1v1h-1zM792 753h1v1h-1zM879 753h1v1h-1zM972 753h1v1h-1zM1024 753h1v1h-1zM1056 753h2v1h-2zM1080 753h1v1h-1zM1233 753h2v1h-2zM17 752h1v1h-1zM19 752h4v1h-4zM29 752h8v1h-8zM89 752h5v1h-5zM106 752h2v1h-2zM149 752h1v1h-1zM159 752h1v1h-1zM162 752h2v1h-2zM179 752h2v1h-2zM187 752h1v1h-1zM250 752h3v1h-3zM261 752h5v1h-5zM325 752h3v1h-3zM333 752h4v1h-4zM411 752h2v1h-2zM533 752h3v1h-3zM570 752h1v1h-1zM580 752h1v1h-1zM629 752h1v1h-1zM791 752h1v1h-1zM880 752h1v1h-1zM972 752h1v1h-1zM1024 752h1v1h-1zM1038 752h5v1h-5zM1053 752h3v1h-3zM1058 752h1v1h-1zM1079 752h1v1h-1zM1235 752h2v1h-2zM18 751h1v1h-1zM108 751h2v1h-2zM148 751h1v1h-1zM160 751h2v1h-2zM181 751h3v1h-3zM186 751h1v1h-1zM266 751h2v1h-2zM323 751h2v1h-2zM413 751h2v1h-2zM531 751h2v1h-2zM571 751h1v1h-1zM579 751h1v1h-1zM630 751h2v1h-2zM789 751h2v1h-2zM881 751h1v1h-1zM972 751h1v1h-1zM1025 751h13v1h-13zM1043 751h4v1h-4zM1051 751h2v1h-2zM1059 751h1v1h-1zM1079 751h1v1h-1zM1237 751h2v1h-2zM110 750h2v1h-2zM147 750h1v1h-1zM184 750h2v1h-2zM268 750h2v1h-2zM313 750h10v1h-10zM415 750h2v1h-2zM529 750h2v1h-2zM572 750h1v1h-1zM579 750h1v1h-1zM632 750h1v1h-1zM788 750h1v1h-1zM882 750h1v1h-1zM972 750h1v1h-1zM1047 750h4v1h-4zM1060 750h1v1h-1zM1078 750h1v1h-1zM1239 750h2v1h-2zM1257 750h1v1h-1zM112 749h9v1h-9zM146 749h1v1h-1zM270 749h2v1h-2zM278 749h4v1h-4zM311 749h2v1h-2zM417 749h2v1h-2zM527 749h2v1h-2zM573 749h2v1h-2zM578 749h1v1h-1zM633 749h1v1h-1zM787 749h1v1h-1zM883 749h1v1h-1zM971 749h1v1h-1zM1061 749h1v1h-1zM1077 749h1v1h-1zM1241 749h3v1h-3zM1255 749h2v1h-2zM1258 749h1v1h-1zM121 748h3v1h-3zM145 748h1v1h-1zM272 748h6v1h-6zM282 748h2v1h-2zM309 748h2v1h-2zM419 748h2v1h-2zM525 748h2v1h-2zM575 748h1v1h-1zM578 748h1v1h-1zM634 748h1v1h-1zM786 748h1v1h-1zM884 748h1v1h-1zM971 748h1v1h-1zM1062 748h2v1h-2zM1077 748h1v1h-1zM1244 748h2v1h-2zM1252 748h3v1h-3zM1259 748h1v1h-1zM124 747h2v1h-2zM144 747h1v1h-1zM284 747h2v1h-2zM296 747h4v1h-4zM306 747h3v1h-3zM421 747h2v1h-2zM522 747h3v1h-3zM576 747h2v1h-2zM635 747h1v1h-1zM785 747h1v1h-1zM885 747h1v1h-1zM971 747h1v1h-1zM1064 747h1v1h-1zM1076 747h1v1h-1zM1246 747h3v1h-3zM1250 747h2v1h-2zM1260 747h2v1h-2zM126 746h2v1h-2zM142 746h2v1h-2zM286 746h2v1h-2zM292 746h4v1h-4zM300 746h6v1h-6zM423 746h2v1h-2zM521 746h1v1h-1zM577 746h1v1h-1zM636 746h1v1h-1zM785 746h1v1h-1zM886 746h1v1h-1zM970 746h1v1h-1zM1065 746h1v1h-1zM1076 746h1v1h-1zM1249 746h1v1h-1zM1262 746h1v1h-1zM128 745h2v1h-2zM141 745h1v1h-1zM288 745h4v1h-4zM425 745h2v1h-2zM520 745h1v1h-1zM637 745h1v1h-1zM729 745h1v1h-1zM761 745h1v1h-1zM784 745h1v1h-1zM887 745h1v1h-1zM970 745h1v1h-1zM1066 745h1v1h-1zM1075 745h1v1h-1zM1263 745h2v1h-2zM130 744h3v1h-3zM139 744h2v1h-2zM427 744h3v1h-3zM519 744h1v1h-1zM638 744h1v1h-1zM727 744h2v1h-2zM730 744h1v1h-1zM745 744h1v1h-1zM759 744h2v1h-2zM762 744h1v1h-1zM783 744h1v1h-1zM887 744h1v1h-1zM970 744h1v1h-1zM1067 744h2v1h-2zM1075 744h1v1h-1zM1265 744h1v1h-1zM133 743h3v1h-3zM138 743h1v1h-1zM430 743h2v1h-2zM517 743h2v1h-2zM639 743h1v1h-1zM725 743h2v1h-2zM731 743h1v1h-1zM744 743h1v1h-1zM746 743h2v1h-2zM757 743h2v1h-2zM763 743h2v1h-2zM782 743h1v1h-1zM888 743h1v1h-1zM970 743h1v1h-1zM1069 743h2v1h-2zM1074 743h1v1h-1zM1266 743h1v1h-1zM136 742h2v1h-2zM432 742h1v1h-1zM516 742h1v1h-1zM640 742h1v1h-1zM724 742h1v1h-1zM732 742h1v1h-1zM743 742h1v1h-1zM748 742h2v1h-2zM756 742h1v1h-1zM765 742h2v1h-2zM782 742h1v1h-1zM889 742h10v1h-10zM969 742h1v1h-1zM1071 742h2v1h-2zM1074 742h1v1h-1zM1267 742h1v1h-1zM1295 742h11v1h-11zM236 770h4v1h-4zM241 770h1v1h-1zM346 770h1v1h-1zM401 770h1v1h-1zM1109 770h2v1h-2zM1159 770h2v1h-2zM1162 770h3v1h-3zM1170 770h1v1h-1zM240 771h1v1h-1zM347 771h3v1h-3zM400 771h1v1h-1zM1111 771h2v1h-2zM1144 771h3v1h-3zM1157 771h2v1h-2zM1165 771h3v1h-3zM1169 771h1v1h-1zM350 772h2v1h-2zM356 772h6v1h-6zM399 772h1v1h-1zM1113 772h2v1h-2zM1141 772h3v1h-3zM1147 772h3v1h-3zM1155 772h2v1h-2zM1168 772h1v1h-1zM352 773h4v1h-4zM362 773h3v1h-3zM385 773h1v1h-1zM398 773h1v1h-1zM1115 773h1v1h-1zM1138 773h3v1h-3zM1150 773h2v1h-2zM1154 773h1v1h-1zM365 774h2v1h-2zM383 774h2v1h-2zM386 774h2v1h-2zM397 774h1v1h-1zM1116 774h2v1h-2zM1136 774h2v1h-2zM1152 774h2v1h-2zM367 775h2v1h-2zM381 775h2v1h-2zM388 775h1v1h-1zM396 775h1v1h-1zM1118 775h1v1h-1zM1135 775h1v1h-1zM369 776h4v1h-4zM379 776h2v1h-2zM389 776h2v1h-2zM395 776h1v1h-1zM1119 776h2v1h-2zM1133 776h2v1h-2zM373 777h4v1h-4zM378 777h1v1h-1zM391 777h2v1h-2zM394 777h1v1h-1zM1121 777h3v1h-3zM1131 777h2v1h-2zM377 778h1v1h-1zM393 778h1v1h-1zM1124 778h4v1h-4zM1130 778h1v1h-1zM433 741h1v1h-1zM504 741h3v1h-3zM515 741h1v1h-1zM641 741h10v1h-10zM722 741h2v1h-2zM733 741h1v1h-1zM741 741h2v1h-2zM750 741h2v1h-2zM754 741h2v1h-2zM767 741h1v1h-1zM781 741h1v1h-1zM899 741h4v1h-4zM910 741h4v1h-4zM968 741h1v1h-1zM1073 741h1v1h-1zM1268 741h1v1h-1zM1289 741h6v1h-6zM1306 741h1v1h-1zM434 740h2v1h-2zM502 740h2v1h-2zM507 740h3v1h-3zM514 740h1v1h-1zM651 740h5v1h-5zM721 740h1v1h-1zM734 740h1v1h-1zM740 740h1v1h-1zM752 740h2v1h-2zM768 740h2v1h-2zM780 740h1v1h-1zM903 740h7v1h-7zM914 740h3v1h-3zM965 740h3v1h-3zM1269 740h1v1h-1zM1287 740h2v1h-2zM1307 740h2v1h-2zM436 739h1v1h-1zM499 739h3v1h-3zM510 739h4v1h-4zM656 739h5v1h-5zM678 739h4v1h-4zM704 739h2v1h-2zM719 739h2v1h-2zM735 739h1v1h-1zM739 739h1v1h-1zM770 739h2v1h-2zM779 739h1v1h-1zM917 739h3v1h-3zM963 739h2v1h-2zM1270 739h2v1h-2zM1285 739h2v1h-2zM1309 739h1v1h-1zM437 738h1v1h-1zM497 738h2v1h-2zM661 738h17v1h-17zM682 738h2v1h-2zM700 738h4v1h-4zM706 738h2v1h-2zM717 738h2v1h-2zM736 738h1v1h-1zM738 738h1v1h-1zM772 738h2v1h-2zM779 738h1v1h-1zM920 738h2v1h-2zM960 738h3v1h-3zM1272 738h1v1h-1zM1282 738h3v1h-3zM1310 738h2v1h-2zM438 737h1v1h-1zM496 737h1v1h-1zM684 737h2v1h-2zM696 737h4v1h-4zM708 737h2v1h-2zM716 737h1v1h-1zM737 737h1v1h-1zM774 737h2v1h-2zM778 737h1v1h-1zM922 737h3v1h-3zM958 737h2v1h-2zM1273 737h9v1h-9zM1312 737h1v1h-1zM438 736h1v1h-1zM494 736h2v1h-2zM686 736h3v1h-3zM691 736h5v1h-5zM710 736h2v1h-2zM714 736h2v1h-2zM776 736h2v1h-2zM925 736h3v1h-3zM955 736h3v1h-3zM1313 736h2v1h-2zM1327 736h2v1h-2zM439 735h1v1h-1zM492 735h2v1h-2zM689 735h2v1h-2zM712 735h2v1h-2zM928 735h2v1h-2zM953 735h2v1h-2zM1315 735h3v1h-3zM1325 735h2v1h-2zM440 734h1v1h-1zM490 734h2v1h-2zM930 734h1v1h-1zM952 734h1v1h-1zM1318 734h2v1h-2zM1322 734h3v1h-3zM441 733h11v1h-11zM489 733h1v1h-1zM931 733h2v1h-2zM950 733h2v1h-2zM1320 733h2v1h-2zM452 732h5v1h-5zM488 732h1v1h-1zM933 732h2v1h-2zM949 732h1v1h-1zM457 731h2v1h-2zM487 731h1v1h-1zM935 731h2v1h-2zM947 731h2v1h-2zM459 730h2v1h-2zM486 730h1v1h-1zM937 730h4v1h-4zM946 730h1v1h-1zM461 729h2v1h-2zM486 729h1v1h-1zM941 729h5v1h-5zM463 728h2v1h-2zM485 728h1v1h-1zM465 727h2v1h-2zM484 727h1v1h-1zM467 726h3v1h-3zM483 726h1v1h-1zM470 725h2v1h-2zM482 725h1v1h-1zM472 724h10v1h-10zM1128 779h2v1h-2z" fill="#1e90ff" shape-rendering="crispEdges"/>
<g shape-rendering="crispEdges">
<rect x="0" y="2" width="1682" height="1" fill="#000"/>
<rect x="0" y="2" width="1" height="816" fill="#000"/>
<rect x="1681" y="2" width="1" height="816" fill="#000"/>
<rect x="0" y="817" width="1682" height="1" fill="#000"/>
<rect x="0" y="523" width="1682" height="1" fill="#000"/>
<rect x="0" y="525" width="1682" height="1" fill="#000"/>
<rect x="0" y="524" width="1684" height="1" fill="#fff"/>
<rect x="0" y="691" width="1682" height="1" fill="#000"/>
<rect x="0" y="693" width="1682" height="1" fill="#000"/>
<rect x="0" y="692" width="1684" height="1" fill="#fff"/>
<rect x="1" y="36" width="1681" height="2" fill="#ff0000"/>
<rect x="1" y="128" width="1681" height="2" fill="#32cd32"/>
<rect x="1" y="220" width="1681" height="2" fill="#4169e1"/>
<rect x="1" y="312" width="1681" height="2" fill="#4169e1"/>
<rect x="1" y="447" width="1681" height="2" fill="#4169e1"/>
<polygon points="1339,3 1348,3 1343.5,8" fill="#74859a"/>
<polygon points="4,9 11,9 7.5,13" fill="#000"/>
<rect x="1682" y="25" width="2" height="1" fill="#000"/>
<rect x="1682" y="58" width="2" height="1" fill="#000"/>
<rect x="1682" y="91" width="2" height="1" fill="#000"/>
<rect x="1682" y="124" width="2" height="1" fill="#000"/>
<rect x="1682" y="157" width="2" height="1" fill="#000"/>
<rect x="1682" y="190" width="2" height="1" fill="#000"/>
<rect x="1682" y="223" width="2" height="1" fill="#000"/>
<rect x="1682" y="256" width="2" height="1" fill="#000"/>
<rect x="1682" y="289" width="2" height="1" fill="#000"/>
<rect x="1682" y="322" width="2" height="1" fill="#000"/>
<rect x="1682" y="355" width="2" height="1" fill="#000"/>
<rect x="1682" y="388" width="2" height="1" fill="#000"/>
<rect x="1682" y="421" width="2" height="1" fill="#000"/>
<rect x="1682" y="454" width="2" height="1" fill="#000"/>
<rect x="1682" y="487" width="2" height="1" fill="#000"/>
<rect x="1682" y="520" width="2" height="1" fill="#000"/>
<rect x="1682" y="614" width="2" height="1" fill="#000"/>
<rect x="1682" y="527" width="1" height="1" fill="#000"/>
<rect x="1682" y="690" width="1" height="1" fill="#000"/>
<rect x="1682" y="695" width="1" height="1" fill="#000"/>
<rect x="1682" y="816" width="1" height="1" fill="#000"/>
<rect x="1" y="818" width="1" height="3" fill="#000"/>
<rect x="65" y="818" width="1" height="3" fill="#000"/>
<rect x="129" y="818" width="1" height="3" fill="#000"/>
<rect x="193" y="818" width="1" height="3" fill="#000"/>
<rect x="257" y="818" width="1" height="3" fill="#000"/>
<rect x="321" y="818" width="1" height="3" fill="#000"/>
<rect x="385" y="818" width="1" height="3" fill="#000"/>
<rect x="449" y="818" width="1" height="3" fill="#000"/>
<rect x="513" y="818" width="1" height="3" fill="#000"/>
<rect x="577" y="818" width="1" height="3" fill="#000"/>
<rect x="641" y="818" width="1" height="3" fill="#000"/>
<rect x="705" y="818" width="1" height="3" fill="#000"/>
<rect x="769" y="818" width="1" height="3" fill="#000"/>
<rect x="833" y="818" width="1" height="3" fill="#000"/>
<rect x="897" y="818" width="1" height="3" fill="#000"/>
<rect x="961" y="818" width="1" height="3" fill="#000"/>
<rect x="1025" y="818" width="1" height="3" fill="#000"/>
<rect x="1089" y="818" width="1" height="3" fill="#000"/>
<rect x="1153" y="818" width="1" height="3" fill="#000"/>
<rect x="1217" y="818" width="1" height="3" fill="#000"/>
<rect x="1281" y="818" width="1" height="3" fill="#000"/>
</g>
<text transform="translate(1687,29) scale(0.913242,1)" style="font-size:10.074px" xml:space="preserve">1832.05</text>
<text transform="translate(1687,62) scale(0.913242,1)" style="font-size:10.074px" xml:space="preserve">1826.65</text>
<text transform="translate(1687,95) scale(0.913242,1)" style="font-size:10.074px" xml:space="preserve">1821.25</text>
<text transform="translate(1687,128) scale(0.913242,1)" style="font-size:10.074px" xml:space="preserve">1815.85</text>
<text transform="translate(1687,161) scale(0.913242,1)" style="font-size:10.074px" xml:space="preserve">1810.45</text>
<text transform="translate(1687,194) scale(0.913242,1)" style="font-size:10.074px" xml:space="preserve">1805.05</text>
<text transform="translate(1687,227) scale(0.913242,1)" style="font-size:10.074px" xml:space="preserve">1799.65</text>
<text transform="translate(1687,260) scale(0.913242,1)" style="font-size:10.074px" xml:space="preserve">1794.40</text>
<text transform="translate(1687,293) scale(0.913242,1)" style="font-size:10.074px" xml:space="preserve">1789.00</text>
<text transform="translate(1687,326) scale(0.913242,1)" style="font-size:10.074px" xml:space="preserve">1783.60</text>
<text transform="translate(1687,359) scale(0.913242,1)" style="font-size:10.074px" xml:space="preserve">1778.20</text>
<text transform="translate(1687,392) scale(0.913242,1)" style="font-size:10.074px" xml:space="preserve">1772.80</text>
<text transform="translate(1687,425) scale(0.913242,1)" style="font-size:10.074px" xml:space="preserve">1767.40</text>
<text transform="translate(1687,458) scale(0.913242,1)" style="font-size:10.074px" xml:space="preserve">1762.00</text>
<text transform="translate(1687,491) scale(0.913242,1)" style="font-size:10.074px" xml:space="preserve">1756.75</text>
<text transform="translate(1687,524) scale(0.913242,1)" style="font-size:10.074px" xml:space="preserve">1751.35</text>
<g shape-rendering="crispEdges">
<rect x="1683" y="31" width="38" height="11" fill="#ff0000"/>
<text transform="translate(1687,40) scale(0.913242,1)" class="w" style="font-size:10.074px" xml:space="preserve">1830.00</text>
<rect x="1683" y="58" width="38" height="11" fill="#000000"/>
<text transform="translate(1687,67) scale(0.913242,1)" class="w" style="font-size:10.074px" xml:space="preserve">1825.87</text>
<rect x="1683" y="123" width="38" height="11" fill="#32cd32"/>
<text transform="translate(1687,132) scale(0.913242,1)" class="w" style="font-size:10.074px" xml:space="preserve">1815.00</text>
<rect x="1683" y="215" width="38" height="11" fill="#4169e1"/>
<text transform="translate(1687,224) scale(0.913242,1)" class="w" style="font-size:10.074px" xml:space="preserve">1800.00</text>
<rect x="1683" y="307" width="38" height="11" fill="#4169e1"/>
<text transform="translate(1687,316) scale(0.913242,1)" class="w" style="font-size:10.074px" xml:space="preserve">1785.00</text>
<rect x="1683" y="442" width="38" height="11" fill="#4169e1"/>
<text transform="translate(1687,451) scale(0.913242,1)" class="w" style="font-size:10.074px" xml:space="preserve">1763.00</text>
</g>
<text transform="translate(1684.6,536) scale(0.913242,1)" style="font-size:10.074px" xml:space="preserve">7.652</text>
<text transform="translate(1684.6,618) scale(0.913242,1)" style="font-size:10.074px" xml:space="preserve">0.00</text>
<text transform="translate(1684.6,688) scale(0.913242,1)" style="font-size:10.074px" xml:space="preserve">-6.726</text>
<text transform="translate(1684.6,704) scale(0.913242,1)" style="font-size:10.074px" xml:space="preserve">100</text>
<text transform="translate(1684.6,735) scale(0.913242,1)" style="font-size:10.074px" xml:space="preserve">70</text>
<text transform="translate(1684.6,784) scale(0.913242,1)" style="font-size:10.074px" xml:space="preserve">30</text>
<text transform="translate(1684.6,814) scale(0.913242,1)" style="font-size:10.074px" xml:space="preserve">0</text>
<text transform="translate(15.3,14) scale(0.913242,1)" style="font-size:10.3258px" xml:space="preserve">XAUUSD-,H4</text>
<text transform="translate(78.7,14) scale(0.913242,1)" style="font-size:10.0521px" xml:space="preserve">1827.81 1827.93 1825.12 1825.87</text>
<text transform="translate(5.2,538) scale(0.913242,1)" style="font-size:10.3149px" xml:space="preserve">MACD(12,26,9) 6.069 3.806</text>
<text transform="translate(4.9,706) scale(0.913242,1)" style="font-size:10.1835px" xml:space="preserve">RSI(14) 65.9286</text>
<text transform="translate(-0.8,830) scale(0.913242,1)" style="font-size:10.3477px" xml:space="preserve">3 Dec 2021</text>
<text transform="translate(63.5,830) scale(0.913242,1)" style="font-size:10.3477px" xml:space="preserve">6 Dec 16:00</text>
<text transform="translate(127.5,830) scale(0.913242,1)" style="font-size:10.3477px" xml:space="preserve">8 Dec 00:00</text>
<text transform="translate(191.5,830) scale(0.913242,1)" style="font-size:10.3477px" xml:space="preserve">9 Dec 08:00</text>
<text transform="translate(255.5,830) scale(0.913242,1)" style="font-size:10.3477px" xml:space="preserve">10 Dec 16:00</text>
<text transform="translate(319.5,830) scale(0.913242,1)" style="font-size:10.3477px" xml:space="preserve">14 Dec 00:00</text>
<text transform="translate(383.5,830) scale(0.913242,1)" style="font-size:10.3477px" xml:space="preserve">15 Dec 08:00</text>
<text transform="translate(447.5,830) scale(0.913242,1)" style="font-size:10.3477px" xml:space="preserve">16 Dec 16:00</text>
<text transform="translate(511.5,830) scale(0.913242,1)" style="font-size:10.3477px" xml:space="preserve">20 Dec 00:00</text>
<text transform="translate(575.5,830) scale(0.913242,1)" style="font-size:10.3477px" xml:space="preserve">21 Dec 08:00</text>
<text transform="translate(639.5,830) scale(0.913242,1)" style="font-size:10.3477px" xml:space="preserve">22 Dec 16:00</text>
<text transform="translate(703.5,830) scale(0.913242,1)" style="font-size:10.3477px" xml:space="preserve">26 Dec 23:00</text>
<text transform="translate(767.5,830) scale(0.913242,1)" style="font-size:10.3477px" xml:space="preserve">28 Dec 04:00</text>
<text transform="translate(831.5,830) scale(0.913242,1)" style="font-size:10.3477px" xml:space="preserve">29 Dec 12:00</text>
<text transform="translate(895.5,830) scale(0.913242,1)" style="font-size:10.3477px" xml:space="preserve">30 Dec 20:00</text>
<text transform="translate(959.5,830) scale(0.913242,1)" style="font-size:10.3477px" xml:space="preserve">3 Jan 04:00</text>
<text transform="translate(1023.5,830) scale(0.913242,1)" style="font-size:10.3477px" xml:space="preserve">4 Jan 12:00</text>
<text transform="translate(1087.5,830) scale(0.913242,1)" style="font-size:10.3477px" xml:space="preserve">5 Jan 20:00</text>
<text transform="translate(1151.5,830) scale(0.913242,1)" style="font-size:10.3477px" xml:space="preserve">7 Jan 04:00</text>
<text transform="translate(1215.5,830) scale(0.913242,1)" style="font-size:10.3477px" xml:space="preserve">10 Jan 12:00</text>
<text transform="translate(1279.5,830) scale(0.913242,1)" style="font-size:10.3477px" xml:space="preserve">11 Jan 20:00</text>
<text x="1307.7" y="396.3" class="cj">多空转折点1815</text>
</svg></body></html>
